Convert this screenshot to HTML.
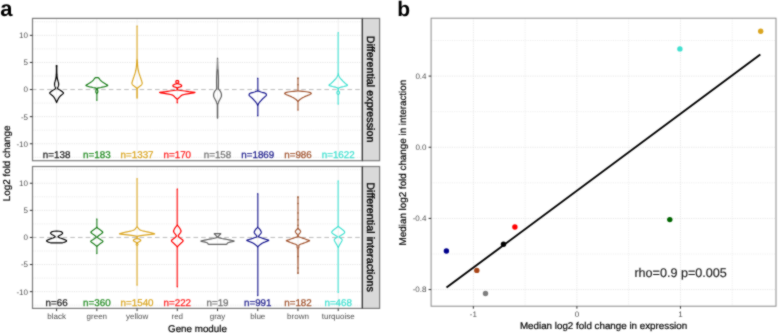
<!DOCTYPE html>
<html><head><meta charset="utf-8"><title>figure</title>
<style>
html,body{margin:0;padding:0;background:#fff;}
body{width:778px;height:333px;overflow:hidden;font-family:"Liberation Sans", sans-serif;}
svg{display:block;text-rendering:geometricPrecision;will-change:transform;}
</style></head><body>
<svg width="778" height="333" viewBox="0 0 778 333">
<defs><filter id="soft" filterUnits="userSpaceOnUse" x="0" y="0" width="778" height="333" color-interpolation-filters="sRGB"><feConvolveMatrix order="3" kernelMatrix="1 2 1 2 12 2 1 2 1" divisor="24" edgeMode="duplicate"/></filter></defs>
<g filter="url(#soft)">
<rect x="0" y="0" width="778" height="333" fill="#ffffff"/>
<rect x="32.5" y="18.4" width="329.9" height="142.29999999999998" fill="#ffffff"/>
<line x1="32.5" x2="362.4" y1="157.30" y2="157.30" stroke="#ebebeb" stroke-width="1" stroke-dasharray="1.2,1.1"/>
<line x1="32.5" x2="362.4" y1="130.20" y2="130.20" stroke="#ebebeb" stroke-width="1" stroke-dasharray="1.2,1.1"/>
<line x1="32.5" x2="362.4" y1="103.10" y2="103.10" stroke="#ebebeb" stroke-width="1" stroke-dasharray="1.2,1.1"/>
<line x1="32.5" x2="362.4" y1="76.00" y2="76.00" stroke="#ebebeb" stroke-width="1" stroke-dasharray="1.2,1.1"/>
<line x1="32.5" x2="362.4" y1="48.90" y2="48.90" stroke="#ebebeb" stroke-width="1" stroke-dasharray="1.2,1.1"/>
<line x1="32.5" x2="362.4" y1="21.80" y2="21.80" stroke="#ebebeb" stroke-width="1" stroke-dasharray="1.2,1.1"/>
<line x1="32.5" x2="362.4" y1="143.75" y2="143.75" stroke="#e4e4e4" stroke-width="1" stroke-dasharray="1.2,1.1"/>
<line x1="32.5" x2="362.4" y1="116.65" y2="116.65" stroke="#e4e4e4" stroke-width="1" stroke-dasharray="1.2,1.1"/>
<line x1="32.5" x2="362.4" y1="62.45" y2="62.45" stroke="#e4e4e4" stroke-width="1" stroke-dasharray="1.2,1.1"/>
<line x1="32.5" x2="362.4" y1="35.35" y2="35.35" stroke="#e4e4e4" stroke-width="1" stroke-dasharray="1.2,1.1"/>
<line x1="56.60" x2="56.60" y1="18.4" y2="160.7" stroke="#efefef" stroke-width="1"/>
<line x1="96.83" x2="96.83" y1="18.4" y2="160.7" stroke="#efefef" stroke-width="1"/>
<line x1="137.06" x2="137.06" y1="18.4" y2="160.7" stroke="#efefef" stroke-width="1"/>
<line x1="177.29" x2="177.29" y1="18.4" y2="160.7" stroke="#efefef" stroke-width="1"/>
<line x1="217.52" x2="217.52" y1="18.4" y2="160.7" stroke="#efefef" stroke-width="1"/>
<line x1="257.75" x2="257.75" y1="18.4" y2="160.7" stroke="#efefef" stroke-width="1"/>
<line x1="297.98" x2="297.98" y1="18.4" y2="160.7" stroke="#efefef" stroke-width="1"/>
<line x1="338.21" x2="338.21" y1="18.4" y2="160.7" stroke="#efefef" stroke-width="1"/>
<line x1="32.5" x2="362.4" y1="89.55" y2="89.55" stroke="#bcbcbc" stroke-width="1" stroke-dasharray="4.6,3.1" stroke-dashoffset="0.7"/>
<rect x="32.5" y="166.5" width="329.9" height="141.89999999999998" fill="#ffffff"/>
<line x1="32.5" x2="362.4" y1="305.20" y2="305.20" stroke="#ebebeb" stroke-width="1" stroke-dasharray="1.2,1.1"/>
<line x1="32.5" x2="362.4" y1="278.10" y2="278.10" stroke="#ebebeb" stroke-width="1" stroke-dasharray="1.2,1.1"/>
<line x1="32.5" x2="362.4" y1="251.00" y2="251.00" stroke="#ebebeb" stroke-width="1" stroke-dasharray="1.2,1.1"/>
<line x1="32.5" x2="362.4" y1="223.90" y2="223.90" stroke="#ebebeb" stroke-width="1" stroke-dasharray="1.2,1.1"/>
<line x1="32.5" x2="362.4" y1="196.80" y2="196.80" stroke="#ebebeb" stroke-width="1" stroke-dasharray="1.2,1.1"/>
<line x1="32.5" x2="362.4" y1="169.70" y2="169.70" stroke="#ebebeb" stroke-width="1" stroke-dasharray="1.2,1.1"/>
<line x1="32.5" x2="362.4" y1="291.65" y2="291.65" stroke="#e4e4e4" stroke-width="1" stroke-dasharray="1.2,1.1"/>
<line x1="32.5" x2="362.4" y1="264.55" y2="264.55" stroke="#e4e4e4" stroke-width="1" stroke-dasharray="1.2,1.1"/>
<line x1="32.5" x2="362.4" y1="210.35" y2="210.35" stroke="#e4e4e4" stroke-width="1" stroke-dasharray="1.2,1.1"/>
<line x1="32.5" x2="362.4" y1="183.25" y2="183.25" stroke="#e4e4e4" stroke-width="1" stroke-dasharray="1.2,1.1"/>
<line x1="56.60" x2="56.60" y1="166.5" y2="308.4" stroke="#efefef" stroke-width="1"/>
<line x1="96.83" x2="96.83" y1="166.5" y2="308.4" stroke="#efefef" stroke-width="1"/>
<line x1="137.06" x2="137.06" y1="166.5" y2="308.4" stroke="#efefef" stroke-width="1"/>
<line x1="177.29" x2="177.29" y1="166.5" y2="308.4" stroke="#efefef" stroke-width="1"/>
<line x1="217.52" x2="217.52" y1="166.5" y2="308.4" stroke="#efefef" stroke-width="1"/>
<line x1="257.75" x2="257.75" y1="166.5" y2="308.4" stroke="#efefef" stroke-width="1"/>
<line x1="297.98" x2="297.98" y1="166.5" y2="308.4" stroke="#efefef" stroke-width="1"/>
<line x1="338.21" x2="338.21" y1="166.5" y2="308.4" stroke="#efefef" stroke-width="1"/>
<line x1="32.5" x2="362.4" y1="237.45" y2="237.45" stroke="#bcbcbc" stroke-width="1" stroke-dasharray="4.6,3.1" stroke-dashoffset="0.7"/>
<path d="M56.60,65.50 L56.95,65.80 L56.93,66.10 L56.87,66.40 L56.80,66.70 L56.75,67.00 L56.75,67.40 L56.75,67.80 L56.75,68.20 L56.75,68.60 L56.75,69.00 L56.75,69.40 L56.75,69.80 L56.75,70.20 L56.75,70.60 L56.76,71.00 L56.77,71.40 L56.77,71.80 L56.78,72.20 L56.79,72.60 L56.80,73.00 L56.82,73.39 L56.84,73.78 L56.86,74.17 L56.89,74.56 L56.92,74.94 L56.95,75.33 L56.98,75.72 L57.02,76.11 L57.05,76.50 L57.09,76.86 L57.14,77.21 L57.18,77.57 L57.23,77.93 L57.28,78.29 L57.34,78.64 L57.40,79.00 L57.50,79.40 L57.62,79.80 L57.75,80.20 L57.88,80.60 L58.00,81.00 L58.12,81.40 L58.25,81.80 L58.36,82.20 L58.47,82.60 L58.55,83.00 L58.61,83.40 L58.65,83.80 L58.65,84.20 L58.65,84.60 L58.62,84.95 L58.56,85.30 L58.49,85.65 L58.40,86.00 L58.29,86.30 L58.16,86.60 L58.02,86.90 L57.90,87.20 L57.70,87.53 L57.52,87.87 L57.50,88.20 L57.73,88.53 L58.12,88.87 L58.60,89.20 L59.02,89.50 L59.50,89.80 L60.01,90.10 L60.50,90.40 L60.99,90.75 L61.50,91.10 L61.98,91.45 L62.40,91.80 L62.79,92.12 L63.14,92.45 L63.41,92.77 L63.50,93.10 L63.38,93.40 L63.08,93.70 L62.70,94.00 L62.30,94.30 L61.89,94.67 L61.42,95.05 L60.94,95.42 L60.50,95.80 L60.18,96.16 L59.87,96.52 L59.57,96.88 L59.28,97.24 L59.00,97.60 L58.80,97.94 L58.60,98.29 L58.41,98.63 L58.22,98.97 L58.04,99.31 L57.87,99.66 L57.70,100.00 L57.51,100.38 L57.33,100.77 L57.15,101.15 L56.99,101.53 L56.86,101.92 L56.75,102.30 L56.60,102.60 L56.60,102.60 L56.45,102.30 L56.34,101.92 L56.21,101.53 L56.05,101.15 L55.87,100.77 L55.69,100.38 L55.50,100.00 L55.33,99.66 L55.16,99.31 L54.98,98.97 L54.79,98.63 L54.60,98.29 L54.40,97.94 L54.20,97.60 L53.92,97.24 L53.63,96.88 L53.33,96.52 L53.02,96.16 L52.70,95.80 L52.26,95.42 L51.78,95.05 L51.31,94.67 L50.90,94.30 L50.50,94.00 L50.12,93.70 L49.82,93.40 L49.70,93.10 L49.79,92.77 L50.06,92.45 L50.41,92.12 L50.80,91.80 L51.22,91.45 L51.70,91.10 L52.21,90.75 L52.70,90.40 L53.19,90.10 L53.70,89.80 L54.18,89.50 L54.60,89.20 L55.08,88.87 L55.47,88.53 L55.70,88.20 L55.68,87.87 L55.50,87.53 L55.30,87.20 L55.18,86.90 L55.04,86.60 L54.91,86.30 L54.80,86.00 L54.71,85.65 L54.64,85.30 L54.58,84.95 L54.55,84.60 L54.55,84.20 L54.55,83.80 L54.59,83.40 L54.65,83.00 L54.73,82.60 L54.84,82.20 L54.95,81.80 L55.08,81.40 L55.20,81.00 L55.32,80.60 L55.45,80.20 L55.58,79.80 L55.70,79.40 L55.80,79.00 L55.86,78.64 L55.92,78.29 L55.97,77.93 L56.02,77.57 L56.06,77.21 L56.11,76.86 L56.15,76.50 L56.18,76.11 L56.22,75.72 L56.25,75.33 L56.28,74.94 L56.31,74.56 L56.34,74.17 L56.36,73.78 L56.38,73.39 L56.40,73.00 L56.41,72.60 L56.42,72.20 L56.43,71.80 L56.43,71.40 L56.44,71.00 L56.45,70.60 L56.45,70.20 L56.45,69.80 L56.45,69.40 L56.45,69.00 L56.45,68.60 L56.45,68.20 L56.45,67.80 L56.45,67.40 L56.45,67.00 L56.40,66.70 L56.33,66.40 L56.27,66.10 L56.25,65.80 L56.60,65.50 Z" fill="none" stroke="#000000" stroke-width="1.2" stroke-linejoin="round"/>
<path d="M56.60,231.20 L59.20,231.25 L60.27,231.47 L61.20,231.70 L61.65,232.02 L62.09,232.35 L62.43,232.68 L62.60,233.00 L62.54,233.32 L62.31,233.65 L61.98,233.98 L61.60,234.30 L60.99,234.70 L60.27,235.10 L59.60,235.50 L58.96,235.83 L58.37,236.17 L58.10,236.50 L58.24,236.87 L58.69,237.23 L59.40,237.60 L60.16,237.95 L61.12,238.30 L62.14,238.65 L63.10,239.00 L64.07,239.40 L65.09,239.80 L65.96,240.20 L66.50,240.60 L66.50,240.90 L66.39,241.20 L66.00,241.50 L65.60,241.80 L64.64,242.15 L63.60,242.50 L62.10,242.80 L56.60,242.85 L56.60,242.85 L51.10,242.80 L49.60,242.50 L48.56,242.15 L47.60,241.80 L47.20,241.50 L46.81,241.20 L46.70,240.90 L46.70,240.60 L47.24,240.20 L48.11,239.80 L49.13,239.40 L50.10,239.00 L51.06,238.65 L52.08,238.30 L53.04,237.95 L53.80,237.60 L54.51,237.23 L54.96,236.87 L55.10,236.50 L54.83,236.17 L54.24,235.83 L53.60,235.50 L52.93,235.10 L52.21,234.70 L51.60,234.30 L51.22,233.98 L50.89,233.65 L50.66,233.32 L50.60,233.00 L50.77,232.68 L51.11,232.35 L51.55,232.02 L52.00,231.70 L52.93,231.47 L54.00,231.25 L56.60,231.20 Z" fill="none" stroke="#000000" stroke-width="1.2" stroke-linejoin="round"/>
<path d="M96.83,77.50 L97.83,77.55 L98.53,77.90 L98.88,78.25 L99.23,78.60 L99.45,78.90 L99.67,79.20 L99.93,79.50 L100.13,79.80 L100.34,80.10 L100.59,80.40 L100.93,80.70 L101.29,81.04 L101.70,81.38 L102.16,81.72 L102.65,82.06 L103.13,82.40 L103.63,82.74 L104.17,83.08 L104.71,83.42 L105.24,83.76 L105.73,84.10 L106.34,84.42 L106.95,84.75 L107.45,85.08 L107.73,85.40 L107.54,85.65 L106.83,85.90 L105.97,86.25 L104.73,86.60 L103.54,86.90 L102.15,87.20 L100.83,87.50 L98.94,87.80 L97.53,88.10 L97.43,88.47 L97.43,88.85 L97.43,89.22 L97.43,89.60 L97.51,89.93 L97.63,90.27 L97.73,90.60 L97.79,90.97 L97.83,91.33 L97.83,91.70 L97.80,92.00 L97.74,92.30 L97.63,92.60 L97.42,92.90 L97.17,93.20 L96.98,93.50 L96.98,93.89 L96.98,94.28 L96.98,94.66 L96.98,95.05 L96.98,95.44 L96.98,95.83 L96.98,96.22 L96.98,96.61 L96.98,96.99 L96.98,97.38 L96.98,97.77 L96.98,98.16 L96.98,98.55 L96.98,98.94 L96.98,99.32 L96.98,99.71 L96.98,100.10 L96.83,100.30 L96.83,100.30 L96.68,100.10 L96.68,99.71 L96.68,99.32 L96.68,98.94 L96.68,98.55 L96.68,98.16 L96.68,97.77 L96.68,97.38 L96.68,96.99 L96.68,96.61 L96.68,96.22 L96.68,95.83 L96.68,95.44 L96.68,95.05 L96.68,94.66 L96.68,94.28 L96.68,93.89 L96.68,93.50 L96.49,93.20 L96.24,92.90 L96.03,92.60 L95.92,92.30 L95.86,92.00 L95.83,91.70 L95.83,91.33 L95.87,90.97 L95.93,90.60 L96.03,90.27 L96.15,89.93 L96.23,89.60 L96.23,89.22 L96.23,88.85 L96.23,88.47 L96.13,88.10 L94.72,87.80 L92.83,87.50 L91.51,87.20 L90.12,86.90 L88.93,86.60 L87.69,86.25 L86.83,85.90 L86.12,85.65 L85.93,85.40 L86.21,85.08 L86.71,84.75 L87.32,84.42 L87.93,84.10 L88.42,83.76 L88.95,83.42 L89.49,83.08 L90.03,82.74 L90.53,82.40 L91.01,82.06 L91.50,81.72 L91.96,81.38 L92.37,81.04 L92.73,80.70 L93.07,80.40 L93.32,80.10 L93.53,79.80 L93.73,79.50 L93.99,79.20 L94.21,78.90 L94.43,78.60 L94.78,78.25 L95.13,77.90 L95.83,77.55 L96.83,77.50 Z" fill="none" stroke="#1a7d1a" stroke-width="1.2" stroke-linejoin="round"/>
<path d="M96.83,219.00 L96.98,219.20 L96.98,219.59 L96.98,219.98 L96.98,220.37 L96.98,220.76 L96.98,221.15 L96.98,221.54 L96.98,221.93 L96.98,222.32 L96.98,222.71 L96.98,223.10 L96.98,223.50 L96.98,223.89 L96.98,224.28 L96.98,224.67 L96.98,225.06 L96.98,225.45 L96.98,225.84 L96.98,226.23 L96.98,226.62 L96.98,227.01 L96.98,227.40 L97.32,227.80 L97.83,228.20 L98.26,228.53 L98.74,228.87 L99.23,229.20 L99.70,229.53 L100.17,229.87 L100.63,230.20 L101.09,230.53 L101.54,230.87 L101.93,231.20 L102.26,231.47 L102.54,231.73 L102.73,232.00 L102.73,232.20 L102.73,232.40 L102.41,232.80 L101.93,233.20 L101.54,233.53 L101.09,233.87 L100.63,234.20 L100.16,234.53 L99.69,234.87 L99.23,235.20 L98.79,235.53 L98.38,235.87 L98.03,236.20 L97.73,236.50 L97.50,236.80 L97.43,237.10 L97.57,237.40 L97.86,237.70 L98.23,238.00 L98.68,238.33 L99.20,238.67 L99.73,239.00 L100.23,239.33 L100.74,239.67 L101.23,240.00 L101.74,240.30 L102.25,240.60 L102.63,240.90 L102.91,241.15 L102.93,241.40 L102.69,241.80 L102.23,242.20 L101.82,242.53 L101.32,242.87 L100.83,243.20 L100.36,243.53 L99.88,243.87 L99.43,244.20 L99.02,244.53 L98.63,244.87 L98.23,245.20 L97.77,245.57 L97.31,245.93 L96.98,246.30 L96.98,246.69 L96.98,247.08 L96.98,247.47 L96.98,247.86 L96.98,248.24 L96.98,248.63 L96.98,249.02 L96.98,249.41 L96.98,249.80 L96.98,250.19 L96.98,250.58 L96.98,250.97 L96.98,251.36 L96.98,251.74 L96.98,252.13 L96.98,252.52 L96.98,252.91 L96.98,253.30 L96.83,253.50 L96.83,253.50 L96.68,253.30 L96.68,252.91 L96.68,252.52 L96.68,252.13 L96.68,251.74 L96.68,251.36 L96.68,250.97 L96.68,250.58 L96.68,250.19 L96.68,249.80 L96.68,249.41 L96.68,249.02 L96.68,248.63 L96.68,248.24 L96.68,247.86 L96.68,247.47 L96.68,247.08 L96.68,246.69 L96.68,246.30 L96.35,245.93 L95.89,245.57 L95.43,245.20 L95.03,244.87 L94.64,244.53 L94.23,244.20 L93.78,243.87 L93.30,243.53 L92.83,243.20 L92.34,242.87 L91.84,242.53 L91.43,242.20 L90.97,241.80 L90.73,241.40 L90.75,241.15 L91.03,240.90 L91.41,240.60 L91.92,240.30 L92.43,240.00 L92.92,239.67 L93.43,239.33 L93.93,239.00 L94.46,238.67 L94.98,238.33 L95.43,238.00 L95.80,237.70 L96.09,237.40 L96.23,237.10 L96.16,236.80 L95.93,236.50 L95.63,236.20 L95.28,235.87 L94.87,235.53 L94.43,235.20 L93.97,234.87 L93.50,234.53 L93.03,234.20 L92.57,233.87 L92.12,233.53 L91.73,233.20 L91.25,232.80 L90.93,232.40 L90.93,232.20 L90.93,232.00 L91.12,231.73 L91.40,231.47 L91.73,231.20 L92.12,230.87 L92.57,230.53 L93.03,230.20 L93.49,229.87 L93.96,229.53 L94.43,229.20 L94.92,228.87 L95.40,228.53 L95.83,228.20 L96.34,227.80 L96.68,227.40 L96.68,227.01 L96.68,226.62 L96.68,226.23 L96.68,225.84 L96.68,225.45 L96.68,225.06 L96.68,224.67 L96.68,224.28 L96.68,223.89 L96.68,223.50 L96.68,223.10 L96.68,222.71 L96.68,222.32 L96.68,221.93 L96.68,221.54 L96.68,221.15 L96.68,220.76 L96.68,220.37 L96.68,219.98 L96.68,219.59 L96.68,219.20 L96.83,219.00 Z" fill="none" stroke="#1a7d1a" stroke-width="1.2" stroke-linejoin="round"/>
<path d="M137.06,26.00 L137.21,26.20 L137.21,26.60 L137.21,26.99 L137.21,27.39 L137.21,27.79 L137.21,28.19 L137.21,28.58 L137.21,28.98 L137.21,29.38 L137.21,29.78 L137.21,30.17 L137.21,30.57 L137.21,30.97 L137.21,31.37 L137.21,31.76 L137.21,32.16 L137.21,32.56 L137.21,32.95 L137.21,33.35 L137.21,33.75 L137.21,34.15 L137.21,34.54 L137.21,34.94 L137.21,35.34 L137.21,35.74 L137.21,36.13 L137.21,36.53 L137.21,36.93 L137.21,37.33 L137.21,37.72 L137.21,38.12 L137.21,38.52 L137.21,38.91 L137.21,39.31 L137.21,39.71 L137.21,40.11 L137.21,40.50 L137.21,40.90 L137.21,41.30 L137.21,41.70 L137.21,42.09 L137.21,42.49 L137.21,42.89 L137.21,43.29 L137.21,43.68 L137.21,44.08 L137.21,44.48 L137.21,44.87 L137.21,45.27 L137.21,45.67 L137.21,46.07 L137.21,46.46 L137.21,46.86 L137.21,47.26 L137.21,47.66 L137.21,48.05 L137.21,48.45 L137.21,48.85 L137.21,49.25 L137.21,49.64 L137.21,50.04 L137.21,50.44 L137.21,50.83 L137.21,51.23 L137.21,51.63 L137.21,52.03 L137.21,52.42 L137.21,52.82 L137.21,53.22 L137.21,53.62 L137.21,54.01 L137.21,54.41 L137.21,54.81 L137.21,55.21 L137.21,55.60 L137.21,56.00 L137.22,56.40 L137.22,56.80 L137.23,57.20 L137.24,57.60 L137.24,58.00 L137.25,58.40 L137.26,58.80 L137.27,59.20 L137.28,59.60 L137.29,60.00 L137.31,60.40 L137.32,60.80 L137.33,61.20 L137.35,61.60 L137.36,62.00 L137.38,62.40 L137.41,62.80 L137.43,63.20 L137.46,63.60 L137.49,64.00 L137.52,64.40 L137.55,64.80 L137.58,65.20 L137.62,65.60 L137.66,66.00 L137.71,66.39 L137.75,66.78 L137.80,67.17 L137.86,67.56 L137.91,67.94 L137.97,68.33 L138.03,68.72 L138.09,69.11 L138.16,69.50 L138.24,69.88 L138.31,70.25 L138.39,70.62 L138.47,71.00 L138.56,71.38 L138.65,71.75 L138.75,72.12 L138.86,72.50 L138.96,72.89 L139.08,73.28 L139.19,73.67 L139.32,74.06 L139.44,74.44 L139.57,74.83 L139.70,75.22 L139.83,75.61 L139.96,76.00 L140.09,76.39 L140.23,76.78 L140.37,77.17 L140.51,77.56 L140.65,77.94 L140.79,78.33 L140.92,78.72 L141.04,79.11 L141.16,79.50 L141.30,79.86 L141.44,80.21 L141.56,80.57 L141.68,80.93 L141.79,81.29 L141.88,81.64 L141.96,82.00 L142.07,82.33 L142.14,82.65 L142.16,82.97 L142.16,83.30 L142.10,83.62 L142.00,83.95 L141.86,84.27 L141.66,84.60 L141.40,84.90 L141.07,85.20 L140.72,85.50 L140.36,85.80 L140.00,86.10 L139.63,86.40 L139.25,86.70 L138.86,87.00 L138.43,87.35 L137.97,87.70 L137.55,88.05 L137.26,88.40 L137.23,88.80 L137.21,89.20 L137.21,89.60 L137.21,90.00 L137.21,90.40 L137.21,90.80 L137.21,91.20 L137.21,91.60 L137.21,92.00 L137.21,92.40 L137.21,92.80 L137.21,93.20 L137.21,93.60 L137.21,94.00 L137.21,94.40 L137.21,94.80 L137.21,95.20 L137.21,95.60 L137.21,96.00 L137.21,96.40 L137.21,96.80 L137.21,97.20 L137.21,97.60 L137.21,98.00 L137.06,98.20 L137.06,98.20 L136.91,98.00 L136.91,97.60 L136.91,97.20 L136.91,96.80 L136.91,96.40 L136.91,96.00 L136.91,95.60 L136.91,95.20 L136.91,94.80 L136.91,94.40 L136.91,94.00 L136.91,93.60 L136.91,93.20 L136.91,92.80 L136.91,92.40 L136.91,92.00 L136.91,91.60 L136.91,91.20 L136.91,90.80 L136.91,90.40 L136.91,90.00 L136.91,89.60 L136.91,89.20 L136.89,88.80 L136.86,88.40 L136.57,88.05 L136.15,87.70 L135.69,87.35 L135.26,87.00 L134.87,86.70 L134.49,86.40 L134.12,86.10 L133.76,85.80 L133.40,85.50 L133.05,85.20 L132.72,84.90 L132.46,84.60 L132.26,84.27 L132.12,83.95 L132.02,83.62 L131.96,83.30 L131.96,82.97 L131.98,82.65 L132.05,82.33 L132.16,82.00 L132.24,81.64 L132.33,81.29 L132.44,80.93 L132.56,80.57 L132.68,80.21 L132.82,79.86 L132.96,79.50 L133.08,79.11 L133.20,78.72 L133.33,78.33 L133.47,77.94 L133.61,77.56 L133.75,77.17 L133.89,76.78 L134.03,76.39 L134.16,76.00 L134.29,75.61 L134.42,75.22 L134.55,74.83 L134.68,74.44 L134.80,74.06 L134.93,73.67 L135.04,73.28 L135.16,72.89 L135.26,72.50 L135.37,72.12 L135.47,71.75 L135.56,71.38 L135.65,71.00 L135.73,70.62 L135.81,70.25 L135.88,69.88 L135.96,69.50 L136.03,69.11 L136.09,68.72 L136.15,68.33 L136.21,67.94 L136.26,67.56 L136.32,67.17 L136.37,66.78 L136.41,66.39 L136.46,66.00 L136.50,65.60 L136.54,65.20 L136.57,64.80 L136.60,64.40 L136.63,64.00 L136.66,63.60 L136.69,63.20 L136.71,62.80 L136.74,62.40 L136.76,62.00 L136.77,61.60 L136.79,61.20 L136.80,60.80 L136.81,60.40 L136.83,60.00 L136.84,59.60 L136.85,59.20 L136.86,58.80 L136.87,58.40 L136.88,58.00 L136.88,57.60 L136.89,57.20 L136.90,56.80 L136.90,56.40 L136.91,56.00 L136.91,55.60 L136.91,55.21 L136.91,54.81 L136.91,54.41 L136.91,54.01 L136.91,53.62 L136.91,53.22 L136.91,52.82 L136.91,52.42 L136.91,52.03 L136.91,51.63 L136.91,51.23 L136.91,50.83 L136.91,50.44 L136.91,50.04 L136.91,49.64 L136.91,49.25 L136.91,48.85 L136.91,48.45 L136.91,48.05 L136.91,47.66 L136.91,47.26 L136.91,46.86 L136.91,46.46 L136.91,46.07 L136.91,45.67 L136.91,45.27 L136.91,44.87 L136.91,44.48 L136.91,44.08 L136.91,43.68 L136.91,43.29 L136.91,42.89 L136.91,42.49 L136.91,42.09 L136.91,41.70 L136.91,41.30 L136.91,40.90 L136.91,40.50 L136.91,40.11 L136.91,39.71 L136.91,39.31 L136.91,38.91 L136.91,38.52 L136.91,38.12 L136.91,37.72 L136.91,37.33 L136.91,36.93 L136.91,36.53 L136.91,36.13 L136.91,35.74 L136.91,35.34 L136.91,34.94 L136.91,34.54 L136.91,34.15 L136.91,33.75 L136.91,33.35 L136.91,32.95 L136.91,32.56 L136.91,32.16 L136.91,31.76 L136.91,31.37 L136.91,30.97 L136.91,30.57 L136.91,30.17 L136.91,29.78 L136.91,29.38 L136.91,28.98 L136.91,28.58 L136.91,28.19 L136.91,27.79 L136.91,27.39 L136.91,26.99 L136.91,26.60 L136.91,26.20 L137.06,26.00 Z" fill="none" stroke="#daa520" stroke-width="1.2" stroke-linejoin="round"/>
<path d="M137.06,178.60 L137.21,178.80 L137.21,179.20 L137.21,179.60 L137.21,180.00 L137.21,180.40 L137.21,180.80 L137.21,181.20 L137.21,181.59 L137.21,181.99 L137.21,182.39 L137.21,182.79 L137.21,183.19 L137.21,183.59 L137.21,183.99 L137.21,184.39 L137.21,184.79 L137.21,185.19 L137.21,185.59 L137.21,185.99 L137.21,186.38 L137.21,186.78 L137.21,187.18 L137.21,187.58 L137.21,187.98 L137.21,188.38 L137.21,188.78 L137.21,189.18 L137.21,189.58 L137.21,189.98 L137.21,190.38 L137.21,190.78 L137.21,191.17 L137.21,191.57 L137.21,191.97 L137.21,192.37 L137.21,192.77 L137.21,193.17 L137.21,193.57 L137.21,193.97 L137.21,194.37 L137.21,194.77 L137.21,195.17 L137.21,195.56 L137.21,195.96 L137.21,196.36 L137.21,196.76 L137.21,197.16 L137.21,197.56 L137.21,197.96 L137.21,198.36 L137.21,198.76 L137.21,199.16 L137.21,199.56 L137.21,199.96 L137.21,200.35 L137.21,200.75 L137.21,201.15 L137.21,201.55 L137.21,201.95 L137.21,202.35 L137.21,202.75 L137.21,203.15 L137.21,203.55 L137.21,203.95 L137.21,204.35 L137.21,204.75 L137.21,205.15 L137.21,205.54 L137.21,205.94 L137.21,206.34 L137.21,206.74 L137.21,207.14 L137.21,207.54 L137.21,207.94 L137.21,208.34 L137.21,208.74 L137.21,209.14 L137.21,209.54 L137.21,209.94 L137.21,210.33 L137.21,210.73 L137.21,211.13 L137.21,211.53 L137.21,211.93 L137.21,212.33 L137.21,212.73 L137.21,213.13 L137.21,213.53 L137.21,213.93 L137.21,214.33 L137.21,214.72 L137.21,215.12 L137.21,215.52 L137.21,215.92 L137.21,216.32 L137.21,216.72 L137.21,217.12 L137.21,217.52 L137.21,217.92 L137.21,218.32 L137.21,218.72 L137.21,219.12 L137.21,219.51 L137.21,219.91 L137.21,220.31 L137.21,220.71 L137.21,221.11 L137.21,221.51 L137.21,221.91 L137.21,222.31 L137.21,222.71 L137.21,223.11 L137.21,223.51 L137.21,223.91 L137.21,224.30 L137.21,224.70 L137.21,225.10 L137.21,225.50 L137.21,225.90 L137.21,226.30 L137.21,226.70 L137.39,227.02 L137.64,227.35 L137.94,227.68 L138.26,228.00 L138.51,228.36 L138.77,228.72 L139.04,229.08 L139.37,229.44 L139.76,229.80 L140.54,230.13 L141.46,230.47 L142.56,230.80 L143.90,231.13 L145.42,231.47 L146.96,231.80 L148.53,232.17 L150.13,232.53 L151.56,232.90 L152.95,233.23 L154.18,233.57 L154.66,233.90 L153.34,234.15 L151.06,234.40 L148.78,234.65 L146.46,234.90 L144.42,235.15 L142.56,235.40 L140.91,235.65 L139.46,235.90 L138.14,236.15 L137.21,236.40 L137.21,236.75 L137.21,237.10 L137.21,237.45 L137.21,237.80 L137.21,238.15 L137.21,238.50 L137.80,238.70 L138.56,238.90 L139.24,239.15 L139.86,239.40 L140.34,239.70 L140.66,240.00 L140.66,240.35 L140.66,240.70 L140.34,241.00 L139.86,241.30 L139.30,241.65 L138.66,242.00 L138.12,242.30 L137.55,242.60 L137.21,242.90 L137.26,243.20 L137.53,243.50 L137.76,243.80 L137.94,244.20 L137.96,244.60 L137.75,244.87 L137.44,245.13 L137.21,245.40 L137.21,245.80 L137.21,246.20 L137.21,246.60 L137.21,247.00 L137.21,247.40 L137.21,247.80 L137.21,248.20 L137.21,248.60 L137.21,249.00 L137.21,249.40 L137.21,249.80 L137.21,250.20 L137.21,250.60 L137.21,251.00 L137.21,251.40 L137.21,251.80 L137.21,252.20 L137.21,252.60 L137.21,253.00 L137.21,253.40 L137.21,253.80 L137.21,254.20 L137.21,254.60 L137.21,255.00 L137.21,255.40 L137.21,255.80 L137.21,256.20 L137.21,256.60 L137.21,257.00 L137.21,257.40 L137.21,257.80 L137.21,258.20 L137.21,258.60 L137.21,259.00 L137.21,259.40 L137.21,259.80 L137.21,260.20 L137.21,260.60 L137.21,261.00 L137.21,261.40 L137.21,261.80 L137.21,262.20 L137.21,262.60 L137.21,263.00 L137.21,263.40 L137.21,263.80 L137.21,264.20 L137.21,264.60 L137.21,265.00 L137.21,265.40 L137.21,265.80 L137.21,266.20 L137.21,266.60 L137.21,267.00 L137.21,267.40 L137.21,267.80 L137.21,268.20 L137.21,268.60 L137.21,269.00 L137.21,269.40 L137.21,269.80 L137.21,270.20 L137.21,270.60 L137.21,271.00 L137.21,271.40 L137.21,271.80 L137.21,272.20 L137.21,272.60 L137.21,273.00 L137.21,273.40 L137.21,273.80 L137.21,274.20 L137.21,274.60 L137.21,275.00 L137.21,275.40 L137.21,275.80 L137.21,276.20 L137.21,276.60 L137.21,277.00 L137.21,277.40 L137.21,277.80 L137.21,278.20 L137.21,278.60 L137.21,279.00 L137.21,279.40 L137.21,279.80 L137.21,280.20 L137.21,280.60 L137.21,281.00 L137.21,281.40 L137.21,281.80 L137.21,282.20 L137.21,282.60 L137.21,283.00 L137.21,283.40 L137.21,283.80 L137.21,284.20 L137.21,284.60 L137.21,285.00 L137.06,285.20 L137.06,285.20 L136.91,285.00 L136.91,284.60 L136.91,284.20 L136.91,283.80 L136.91,283.40 L136.91,283.00 L136.91,282.60 L136.91,282.20 L136.91,281.80 L136.91,281.40 L136.91,281.00 L136.91,280.60 L136.91,280.20 L136.91,279.80 L136.91,279.40 L136.91,279.00 L136.91,278.60 L136.91,278.20 L136.91,277.80 L136.91,277.40 L136.91,277.00 L136.91,276.60 L136.91,276.20 L136.91,275.80 L136.91,275.40 L136.91,275.00 L136.91,274.60 L136.91,274.20 L136.91,273.80 L136.91,273.40 L136.91,273.00 L136.91,272.60 L136.91,272.20 L136.91,271.80 L136.91,271.40 L136.91,271.00 L136.91,270.60 L136.91,270.20 L136.91,269.80 L136.91,269.40 L136.91,269.00 L136.91,268.60 L136.91,268.20 L136.91,267.80 L136.91,267.40 L136.91,267.00 L136.91,266.60 L136.91,266.20 L136.91,265.80 L136.91,265.40 L136.91,265.00 L136.91,264.60 L136.91,264.20 L136.91,263.80 L136.91,263.40 L136.91,263.00 L136.91,262.60 L136.91,262.20 L136.91,261.80 L136.91,261.40 L136.91,261.00 L136.91,260.60 L136.91,260.20 L136.91,259.80 L136.91,259.40 L136.91,259.00 L136.91,258.60 L136.91,258.20 L136.91,257.80 L136.91,257.40 L136.91,257.00 L136.91,256.60 L136.91,256.20 L136.91,255.80 L136.91,255.40 L136.91,255.00 L136.91,254.60 L136.91,254.20 L136.91,253.80 L136.91,253.40 L136.91,253.00 L136.91,252.60 L136.91,252.20 L136.91,251.80 L136.91,251.40 L136.91,251.00 L136.91,250.60 L136.91,250.20 L136.91,249.80 L136.91,249.40 L136.91,249.00 L136.91,248.60 L136.91,248.20 L136.91,247.80 L136.91,247.40 L136.91,247.00 L136.91,246.60 L136.91,246.20 L136.91,245.80 L136.91,245.40 L136.68,245.13 L136.37,244.87 L136.16,244.60 L136.18,244.20 L136.36,243.80 L136.59,243.50 L136.86,243.20 L136.91,242.90 L136.57,242.60 L136.00,242.30 L135.46,242.00 L134.82,241.65 L134.26,241.30 L133.78,241.00 L133.46,240.70 L133.46,240.35 L133.46,240.00 L133.78,239.70 L134.26,239.40 L134.88,239.15 L135.56,238.90 L136.32,238.70 L136.91,238.50 L136.91,238.15 L136.91,237.80 L136.91,237.45 L136.91,237.10 L136.91,236.75 L136.91,236.40 L135.98,236.15 L134.66,235.90 L133.21,235.65 L131.56,235.40 L129.70,235.15 L127.66,234.90 L125.34,234.65 L123.06,234.40 L120.78,234.15 L119.46,233.90 L119.94,233.57 L121.17,233.23 L122.56,232.90 L123.99,232.53 L125.59,232.17 L127.16,231.80 L128.70,231.47 L130.22,231.13 L131.56,230.80 L132.66,230.47 L133.58,230.13 L134.36,229.80 L134.75,229.44 L135.08,229.08 L135.35,228.72 L135.61,228.36 L135.86,228.00 L136.18,227.68 L136.48,227.35 L136.73,227.02 L136.91,226.70 L136.91,226.30 L136.91,225.90 L136.91,225.50 L136.91,225.10 L136.91,224.70 L136.91,224.30 L136.91,223.91 L136.91,223.51 L136.91,223.11 L136.91,222.71 L136.91,222.31 L136.91,221.91 L136.91,221.51 L136.91,221.11 L136.91,220.71 L136.91,220.31 L136.91,219.91 L136.91,219.51 L136.91,219.12 L136.91,218.72 L136.91,218.32 L136.91,217.92 L136.91,217.52 L136.91,217.12 L136.91,216.72 L136.91,216.32 L136.91,215.92 L136.91,215.52 L136.91,215.12 L136.91,214.72 L136.91,214.33 L136.91,213.93 L136.91,213.53 L136.91,213.13 L136.91,212.73 L136.91,212.33 L136.91,211.93 L136.91,211.53 L136.91,211.13 L136.91,210.73 L136.91,210.33 L136.91,209.94 L136.91,209.54 L136.91,209.14 L136.91,208.74 L136.91,208.34 L136.91,207.94 L136.91,207.54 L136.91,207.14 L136.91,206.74 L136.91,206.34 L136.91,205.94 L136.91,205.54 L136.91,205.15 L136.91,204.75 L136.91,204.35 L136.91,203.95 L136.91,203.55 L136.91,203.15 L136.91,202.75 L136.91,202.35 L136.91,201.95 L136.91,201.55 L136.91,201.15 L136.91,200.75 L136.91,200.35 L136.91,199.96 L136.91,199.56 L136.91,199.16 L136.91,198.76 L136.91,198.36 L136.91,197.96 L136.91,197.56 L136.91,197.16 L136.91,196.76 L136.91,196.36 L136.91,195.96 L136.91,195.56 L136.91,195.17 L136.91,194.77 L136.91,194.37 L136.91,193.97 L136.91,193.57 L136.91,193.17 L136.91,192.77 L136.91,192.37 L136.91,191.97 L136.91,191.57 L136.91,191.17 L136.91,190.78 L136.91,190.38 L136.91,189.98 L136.91,189.58 L136.91,189.18 L136.91,188.78 L136.91,188.38 L136.91,187.98 L136.91,187.58 L136.91,187.18 L136.91,186.78 L136.91,186.38 L136.91,185.99 L136.91,185.59 L136.91,185.19 L136.91,184.79 L136.91,184.39 L136.91,183.99 L136.91,183.59 L136.91,183.19 L136.91,182.79 L136.91,182.39 L136.91,181.99 L136.91,181.59 L136.91,181.20 L136.91,180.80 L136.91,180.40 L136.91,180.00 L136.91,179.60 L136.91,179.20 L136.91,178.80 L137.06,178.60 Z" fill="none" stroke="#daa520" stroke-width="1.2" stroke-linejoin="round"/>
<path d="M177.29,80.60 L178.29,80.65 L178.49,80.93 L178.62,81.22 L178.69,81.50 L178.69,81.83 L178.68,82.15 L178.61,82.47 L178.49,82.80 L177.81,83.15 L177.44,83.50 L178.46,83.90 L179.79,84.30 L180.66,84.65 L181.29,85.00 L181.62,85.40 L181.69,85.80 L181.53,86.20 L181.09,86.60 L180.24,86.90 L179.29,87.20 L177.89,87.60 L177.74,87.94 L177.58,88.29 L177.44,88.63 L177.44,88.97 L177.44,89.31 L177.44,89.66 L177.44,90.00 L178.84,90.25 L180.79,90.50 L182.74,90.75 L184.79,91.00 L186.93,91.35 L188.99,91.70 L192.29,92.10 L194.99,92.45 L193.79,92.80 L191.70,93.20 L188.99,93.60 L187.44,93.90 L185.72,94.20 L184.08,94.50 L182.79,94.80 L181.97,95.10 L181.47,95.40 L181.13,95.70 L180.79,96.00 L180.36,96.37 L180.03,96.73 L179.69,97.10 L179.39,97.40 L179.09,97.70 L178.78,98.00 L178.49,98.30 L177.89,98.70 L177.44,99.10 L177.44,99.49 L177.44,99.88 L177.44,100.27 L177.44,100.66 L177.44,101.04 L177.44,101.43 L177.44,101.82 L177.44,102.21 L177.44,102.60 L177.29,102.80 L177.29,102.80 L177.14,102.60 L177.14,102.21 L177.14,101.82 L177.14,101.43 L177.14,101.04 L177.14,100.66 L177.14,100.27 L177.14,99.88 L177.14,99.49 L177.14,99.10 L176.69,98.70 L176.09,98.30 L175.80,98.00 L175.49,97.70 L175.19,97.40 L174.89,97.10 L174.55,96.73 L174.22,96.37 L173.79,96.00 L173.45,95.70 L173.11,95.40 L172.61,95.10 L171.79,94.80 L170.50,94.50 L168.86,94.20 L167.14,93.90 L165.59,93.60 L162.88,93.20 L160.79,92.80 L159.59,92.45 L162.29,92.10 L165.59,91.70 L167.65,91.35 L169.79,91.00 L171.84,90.75 L173.79,90.50 L175.74,90.25 L177.14,90.00 L177.14,89.66 L177.14,89.31 L177.14,88.97 L177.14,88.63 L177.00,88.29 L176.84,87.94 L176.69,87.60 L175.29,87.20 L174.34,86.90 L173.49,86.60 L173.05,86.20 L172.89,85.80 L172.96,85.40 L173.29,85.00 L173.92,84.65 L174.79,84.30 L176.12,83.90 L177.14,83.50 L176.77,83.15 L176.09,82.80 L175.97,82.47 L175.90,82.15 L175.89,81.83 L175.89,81.50 L175.96,81.22 L176.09,80.93 L176.29,80.65 L177.29,80.60 Z" fill="none" stroke="#ff0000" stroke-width="1.2" stroke-linejoin="round"/>
<path d="M177.29,189.00 L177.44,189.20 L177.44,189.60 L177.44,190.00 L177.44,190.40 L177.44,190.80 L177.44,191.19 L177.44,191.59 L177.44,191.99 L177.44,192.39 L177.44,192.79 L177.44,193.19 L177.44,193.59 L177.44,193.99 L177.44,194.39 L177.44,194.78 L177.44,195.18 L177.44,195.58 L177.44,195.98 L177.44,196.38 L177.44,196.78 L177.44,197.18 L177.44,197.58 L177.44,197.98 L177.44,198.37 L177.44,198.77 L177.44,199.17 L177.44,199.57 L177.44,199.97 L177.44,200.37 L177.44,200.77 L177.44,201.17 L177.44,201.57 L177.44,201.96 L177.44,202.36 L177.44,202.76 L177.44,203.16 L177.44,203.56 L177.44,203.96 L177.44,204.36 L177.44,204.76 L177.44,205.16 L177.44,205.55 L177.44,205.95 L177.44,206.35 L177.44,206.75 L177.44,207.15 L177.44,207.55 L177.44,207.95 L177.44,208.35 L177.44,208.75 L177.44,209.14 L177.44,209.54 L177.44,209.94 L177.44,210.34 L177.44,210.74 L177.44,211.14 L177.44,211.54 L177.44,211.94 L177.44,212.34 L177.44,212.73 L177.44,213.13 L177.44,213.53 L177.44,213.93 L177.44,214.33 L177.44,214.73 L177.44,215.13 L177.44,215.53 L177.44,215.93 L177.44,216.32 L177.44,216.72 L177.44,217.12 L177.44,217.52 L177.44,217.92 L177.44,218.32 L177.44,218.72 L177.44,219.12 L177.44,219.52 L177.44,219.91 L177.44,220.31 L177.44,220.71 L177.44,221.11 L177.44,221.51 L177.44,221.91 L177.44,222.31 L177.44,222.71 L177.44,223.11 L177.44,223.50 L177.44,223.90 L177.44,224.30 L177.44,224.70 L177.44,225.10 L177.63,225.45 L177.90,225.80 L178.20,226.15 L178.49,226.50 L178.77,226.88 L179.05,227.25 L179.33,227.62 L179.59,228.00 L179.84,228.40 L180.08,228.80 L180.30,229.20 L180.49,229.60 L180.65,229.90 L180.80,230.20 L180.91,230.50 L180.99,230.80 L180.99,231.20 L180.99,231.60 L180.88,231.90 L180.72,232.20 L180.52,232.50 L180.29,232.80 L180.02,233.20 L179.70,233.60 L179.38,234.00 L179.09,234.40 L178.80,234.80 L178.51,235.20 L178.28,235.60 L178.19,236.00 L178.32,236.40 L178.66,236.80 L179.09,237.20 L179.48,237.55 L179.95,237.90 L180.43,238.25 L180.89,238.60 L181.33,238.90 L181.76,239.20 L182.16,239.50 L182.49,239.80 L182.80,240.10 L183.00,240.40 L183.09,240.70 L183.06,240.97 L182.93,241.23 L182.69,241.50 L182.43,241.82 L182.11,242.15 L181.75,242.48 L181.39,242.80 L181.02,243.15 L180.64,243.50 L180.26,243.85 L179.89,244.20 L179.55,244.52 L179.22,244.85 L178.90,245.18 L178.59,245.50 L178.26,245.82 L177.93,246.15 L177.64,246.48 L177.44,246.80 L177.44,247.20 L177.44,247.60 L177.44,247.99 L177.44,248.39 L177.44,248.79 L177.44,249.19 L177.44,249.59 L177.44,249.98 L177.44,250.38 L177.44,250.78 L177.44,251.18 L177.44,251.58 L177.44,251.97 L177.44,252.37 L177.44,252.77 L177.44,253.17 L177.44,253.57 L177.44,253.96 L177.44,254.36 L177.44,254.76 L177.44,255.16 L177.44,255.56 L177.44,255.95 L177.44,256.35 L177.44,256.75 L177.44,257.15 L177.44,257.55 L177.44,257.94 L177.44,258.34 L177.44,258.74 L177.44,259.14 L177.44,259.54 L177.44,259.93 L177.44,260.33 L177.44,260.73 L177.44,261.13 L177.44,261.53 L177.44,261.92 L177.44,262.32 L177.44,262.72 L177.44,263.12 L177.44,263.52 L177.44,263.91 L177.44,264.31 L177.44,264.71 L177.44,265.11 L177.44,265.51 L177.44,265.90 L177.44,266.30 L177.44,266.70 L177.44,267.10 L177.44,267.50 L177.44,267.89 L177.44,268.29 L177.44,268.69 L177.44,269.09 L177.44,269.49 L177.44,269.88 L177.44,270.28 L177.44,270.68 L177.44,271.08 L177.44,271.48 L177.44,271.87 L177.44,272.27 L177.44,272.67 L177.44,273.07 L177.44,273.47 L177.44,273.86 L177.44,274.26 L177.44,274.66 L177.44,275.06 L177.44,275.46 L177.44,275.85 L177.44,276.25 L177.44,276.65 L177.44,277.05 L177.44,277.45 L177.44,277.84 L177.44,278.24 L177.44,278.64 L177.44,279.04 L177.44,279.44 L177.44,279.83 L177.44,280.23 L177.44,280.63 L177.44,281.03 L177.44,281.43 L177.44,281.82 L177.44,282.22 L177.44,282.62 L177.44,283.02 L177.44,283.42 L177.44,283.81 L177.44,284.21 L177.44,284.61 L177.44,285.01 L177.44,285.41 L177.44,285.80 L177.44,286.20 L177.44,286.60 L177.29,286.80 L177.29,286.80 L177.14,286.60 L177.14,286.20 L177.14,285.80 L177.14,285.41 L177.14,285.01 L177.14,284.61 L177.14,284.21 L177.14,283.81 L177.14,283.42 L177.14,283.02 L177.14,282.62 L177.14,282.22 L177.14,281.82 L177.14,281.43 L177.14,281.03 L177.14,280.63 L177.14,280.23 L177.14,279.83 L177.14,279.44 L177.14,279.04 L177.14,278.64 L177.14,278.24 L177.14,277.84 L177.14,277.45 L177.14,277.05 L177.14,276.65 L177.14,276.25 L177.14,275.85 L177.14,275.46 L177.14,275.06 L177.14,274.66 L177.14,274.26 L177.14,273.86 L177.14,273.47 L177.14,273.07 L177.14,272.67 L177.14,272.27 L177.14,271.87 L177.14,271.48 L177.14,271.08 L177.14,270.68 L177.14,270.28 L177.14,269.88 L177.14,269.49 L177.14,269.09 L177.14,268.69 L177.14,268.29 L177.14,267.89 L177.14,267.50 L177.14,267.10 L177.14,266.70 L177.14,266.30 L177.14,265.90 L177.14,265.51 L177.14,265.11 L177.14,264.71 L177.14,264.31 L177.14,263.91 L177.14,263.52 L177.14,263.12 L177.14,262.72 L177.14,262.32 L177.14,261.92 L177.14,261.53 L177.14,261.13 L177.14,260.73 L177.14,260.33 L177.14,259.93 L177.14,259.54 L177.14,259.14 L177.14,258.74 L177.14,258.34 L177.14,257.94 L177.14,257.55 L177.14,257.15 L177.14,256.75 L177.14,256.35 L177.14,255.95 L177.14,255.56 L177.14,255.16 L177.14,254.76 L177.14,254.36 L177.14,253.96 L177.14,253.57 L177.14,253.17 L177.14,252.77 L177.14,252.37 L177.14,251.97 L177.14,251.58 L177.14,251.18 L177.14,250.78 L177.14,250.38 L177.14,249.98 L177.14,249.59 L177.14,249.19 L177.14,248.79 L177.14,248.39 L177.14,247.99 L177.14,247.60 L177.14,247.20 L177.14,246.80 L176.94,246.48 L176.65,246.15 L176.31,245.82 L175.99,245.50 L175.68,245.18 L175.36,244.85 L175.03,244.52 L174.69,244.20 L174.32,243.85 L173.94,243.50 L173.56,243.15 L173.19,242.80 L172.83,242.48 L172.47,242.15 L172.15,241.82 L171.89,241.50 L171.65,241.23 L171.52,240.97 L171.49,240.70 L171.58,240.40 L171.78,240.10 L172.09,239.80 L172.41,239.50 L172.81,239.20 L173.25,238.90 L173.69,238.60 L174.15,238.25 L174.63,237.90 L175.10,237.55 L175.49,237.20 L175.92,236.80 L176.26,236.40 L176.39,236.00 L176.30,235.60 L176.07,235.20 L175.78,234.80 L175.49,234.40 L175.20,234.00 L174.88,233.60 L174.56,233.20 L174.29,232.80 L174.06,232.50 L173.86,232.20 L173.70,231.90 L173.59,231.60 L173.59,231.20 L173.59,230.80 L173.67,230.50 L173.78,230.20 L173.93,229.90 L174.09,229.60 L174.28,229.20 L174.50,228.80 L174.74,228.40 L174.99,228.00 L175.25,227.62 L175.53,227.25 L175.81,226.88 L176.09,226.50 L176.38,226.15 L176.68,225.80 L176.95,225.45 L177.14,225.10 L177.14,224.70 L177.14,224.30 L177.14,223.90 L177.14,223.50 L177.14,223.11 L177.14,222.71 L177.14,222.31 L177.14,221.91 L177.14,221.51 L177.14,221.11 L177.14,220.71 L177.14,220.31 L177.14,219.91 L177.14,219.52 L177.14,219.12 L177.14,218.72 L177.14,218.32 L177.14,217.92 L177.14,217.52 L177.14,217.12 L177.14,216.72 L177.14,216.32 L177.14,215.93 L177.14,215.53 L177.14,215.13 L177.14,214.73 L177.14,214.33 L177.14,213.93 L177.14,213.53 L177.14,213.13 L177.14,212.73 L177.14,212.34 L177.14,211.94 L177.14,211.54 L177.14,211.14 L177.14,210.74 L177.14,210.34 L177.14,209.94 L177.14,209.54 L177.14,209.14 L177.14,208.75 L177.14,208.35 L177.14,207.95 L177.14,207.55 L177.14,207.15 L177.14,206.75 L177.14,206.35 L177.14,205.95 L177.14,205.55 L177.14,205.16 L177.14,204.76 L177.14,204.36 L177.14,203.96 L177.14,203.56 L177.14,203.16 L177.14,202.76 L177.14,202.36 L177.14,201.96 L177.14,201.57 L177.14,201.17 L177.14,200.77 L177.14,200.37 L177.14,199.97 L177.14,199.57 L177.14,199.17 L177.14,198.77 L177.14,198.37 L177.14,197.98 L177.14,197.58 L177.14,197.18 L177.14,196.78 L177.14,196.38 L177.14,195.98 L177.14,195.58 L177.14,195.18 L177.14,194.78 L177.14,194.39 L177.14,193.99 L177.14,193.59 L177.14,193.19 L177.14,192.79 L177.14,192.39 L177.14,191.99 L177.14,191.59 L177.14,191.19 L177.14,190.80 L177.14,190.40 L177.14,190.00 L177.14,189.60 L177.14,189.20 L177.29,189.00 Z" fill="none" stroke="#ff0000" stroke-width="1.2" stroke-linejoin="round"/>
<path d="M217.52,58.20 L217.62,58.40 L217.63,58.76 L217.63,59.12 L217.63,59.48 L217.63,59.84 L217.63,60.20 L217.63,60.56 L217.64,60.92 L217.64,61.28 L217.66,61.64 L217.67,62.00 L217.68,62.40 L217.70,62.80 L217.71,63.20 L217.73,63.60 L217.75,64.00 L217.77,64.40 L217.79,64.80 L217.82,65.20 L217.84,65.60 L217.86,66.00 L217.88,66.40 L217.91,66.80 L217.93,67.20 L217.95,67.60 L217.97,68.00 L217.99,68.40 L218.01,68.80 L218.03,69.20 L218.05,69.60 L218.07,70.00 L218.09,70.40 L218.12,70.80 L218.14,71.20 L218.16,71.60 L218.18,72.00 L218.20,72.40 L218.22,72.80 L218.24,73.20 L218.25,73.60 L218.27,74.00 L218.29,74.40 L218.30,74.80 L218.32,75.20 L218.34,75.60 L218.35,76.00 L218.37,76.40 L218.38,76.80 L218.40,77.20 L218.41,77.60 L218.43,78.00 L218.44,78.40 L218.45,78.80 L218.46,79.20 L218.46,79.60 L218.47,80.00 L218.47,80.38 L218.47,80.76 L218.47,81.15 L218.47,81.53 L218.47,81.91 L218.47,82.29 L218.47,82.68 L218.46,83.06 L218.46,83.44 L218.45,83.82 L218.45,84.21 L218.44,84.59 L218.44,84.97 L218.43,85.35 L218.43,85.74 L218.42,86.12 L218.42,86.50 L218.40,86.85 L218.38,87.20 L218.37,87.55 L218.37,87.90 L218.37,88.25 L218.37,88.60 L218.52,88.93 L218.74,89.27 L219.02,89.60 L219.27,89.95 L219.56,90.30 L219.86,90.65 L220.12,91.00 L220.35,91.38 L220.56,91.75 L220.75,92.12 L220.92,92.50 L221.07,92.88 L221.19,93.25 L221.29,93.62 L221.37,94.00 L221.43,94.33 L221.46,94.65 L221.47,94.97 L221.47,95.30 L221.45,95.62 L221.42,95.95 L221.36,96.27 L221.27,96.60 L221.14,96.95 L220.98,97.30 L220.80,97.65 L220.62,98.00 L220.43,98.38 L220.24,98.75 L220.03,99.12 L219.82,99.50 L219.64,99.84 L219.45,100.18 L219.26,100.52 L219.08,100.86 L218.92,101.20 L218.78,101.56 L218.66,101.92 L218.55,102.28 L218.44,102.64 L218.32,103.00 L218.18,103.36 L218.03,103.72 L217.89,104.08 L217.76,104.44 L217.67,104.80 L217.67,105.19 L217.67,105.58 L217.67,105.96 L217.67,106.35 L217.67,106.74 L217.67,107.13 L217.67,107.52 L217.67,107.91 L217.67,108.29 L217.67,108.68 L217.67,109.07 L217.67,109.46 L217.67,109.85 L217.67,110.24 L217.67,110.62 L217.67,111.01 L217.67,111.40 L217.67,111.79 L217.67,112.18 L217.67,112.56 L217.67,112.95 L217.67,113.34 L217.67,113.73 L217.67,114.12 L217.67,114.51 L217.67,114.89 L217.67,115.28 L217.67,115.67 L217.67,116.06 L217.67,116.45 L217.67,116.84 L217.67,117.22 L217.67,117.61 L217.67,118.00 L217.52,118.20 L217.52,118.20 L217.37,118.00 L217.37,117.61 L217.37,117.22 L217.37,116.84 L217.37,116.45 L217.37,116.06 L217.37,115.67 L217.37,115.28 L217.37,114.89 L217.37,114.51 L217.37,114.12 L217.37,113.73 L217.37,113.34 L217.37,112.95 L217.37,112.56 L217.37,112.18 L217.37,111.79 L217.37,111.40 L217.37,111.01 L217.37,110.62 L217.37,110.24 L217.37,109.85 L217.37,109.46 L217.37,109.07 L217.37,108.68 L217.37,108.29 L217.37,107.91 L217.37,107.52 L217.37,107.13 L217.37,106.74 L217.37,106.35 L217.37,105.96 L217.37,105.58 L217.37,105.19 L217.37,104.80 L217.28,104.44 L217.15,104.08 L217.01,103.72 L216.86,103.36 L216.72,103.00 L216.60,102.64 L216.49,102.28 L216.38,101.92 L216.26,101.56 L216.12,101.20 L215.96,100.86 L215.78,100.52 L215.59,100.18 L215.40,99.84 L215.22,99.50 L215.01,99.12 L214.80,98.75 L214.61,98.38 L214.42,98.00 L214.24,97.65 L214.06,97.30 L213.90,96.95 L213.77,96.60 L213.68,96.27 L213.62,95.95 L213.59,95.62 L213.57,95.30 L213.57,94.97 L213.58,94.65 L213.61,94.33 L213.67,94.00 L213.75,93.62 L213.85,93.25 L213.97,92.88 L214.12,92.50 L214.29,92.12 L214.48,91.75 L214.69,91.38 L214.92,91.00 L215.18,90.65 L215.48,90.30 L215.77,89.95 L216.02,89.60 L216.30,89.27 L216.52,88.93 L216.67,88.60 L216.67,88.25 L216.67,87.90 L216.67,87.55 L216.66,87.20 L216.64,86.85 L216.62,86.50 L216.62,86.12 L216.61,85.74 L216.61,85.35 L216.60,84.97 L216.60,84.59 L216.59,84.21 L216.59,83.82 L216.58,83.44 L216.58,83.06 L216.57,82.68 L216.57,82.29 L216.57,81.91 L216.57,81.53 L216.57,81.15 L216.57,80.76 L216.57,80.38 L216.57,80.00 L216.58,79.60 L216.58,79.20 L216.59,78.80 L216.60,78.40 L216.61,78.00 L216.63,77.60 L216.64,77.20 L216.66,76.80 L216.67,76.40 L216.69,76.00 L216.70,75.60 L216.72,75.20 L216.74,74.80 L216.75,74.40 L216.77,74.00 L216.79,73.60 L216.80,73.20 L216.82,72.80 L216.84,72.40 L216.86,72.00 L216.88,71.60 L216.90,71.20 L216.92,70.80 L216.95,70.40 L216.97,70.00 L216.99,69.60 L217.01,69.20 L217.03,68.80 L217.05,68.40 L217.07,68.00 L217.09,67.60 L217.11,67.20 L217.13,66.80 L217.16,66.40 L217.18,66.00 L217.20,65.60 L217.22,65.20 L217.25,64.80 L217.27,64.40 L217.29,64.00 L217.31,63.60 L217.33,63.20 L217.34,62.80 L217.36,62.40 L217.37,62.00 L217.38,61.64 L217.40,61.28 L217.40,60.92 L217.41,60.56 L217.41,60.20 L217.41,59.84 L217.41,59.48 L217.41,59.12 L217.41,58.76 L217.42,58.40 L217.52,58.20 Z" fill="none" stroke="#606060" stroke-width="1.2" stroke-linejoin="round"/>
<path d="M217.52,233.50 L220.72,233.55 L220.72,233.90 L220.36,234.25 L219.92,234.60 L219.66,234.90 L219.37,235.20 L219.08,235.50 L218.82,235.80 L218.51,236.18 L218.17,236.55 L217.97,236.93 L217.97,237.30 L218.48,237.60 L219.36,237.90 L220.52,238.20 L222.01,238.53 L223.76,238.87 L225.52,239.20 L227.24,239.53 L228.96,239.87 L230.52,240.20 L232.07,240.50 L233.47,240.80 L234.12,241.10 L233.58,241.37 L232.29,241.63 L231.02,241.90 L229.94,242.20 L228.87,242.50 L228.02,242.80 L227.52,243.10 L227.24,243.40 L227.02,243.70 L227.02,244.00 L226.52,244.30 L217.52,244.35 L217.52,244.35 L208.52,244.30 L208.02,244.00 L208.02,243.70 L207.80,243.40 L207.52,243.10 L207.02,242.80 L206.17,242.50 L205.10,242.20 L204.02,241.90 L202.75,241.63 L201.46,241.37 L200.92,241.10 L201.57,240.80 L202.97,240.50 L204.52,240.20 L206.08,239.87 L207.80,239.53 L209.52,239.20 L211.28,238.87 L213.03,238.53 L214.52,238.20 L215.68,237.90 L216.56,237.60 L217.07,237.30 L217.07,236.93 L216.87,236.55 L216.53,236.18 L216.22,235.80 L215.96,235.50 L215.67,235.20 L215.38,234.90 L215.12,234.60 L214.68,234.25 L214.32,233.90 L214.32,233.55 L217.52,233.50 Z" fill="none" stroke="#606060" stroke-width="1.2" stroke-linejoin="round"/>
<path d="M257.75,78.25 L257.90,78.45 L257.90,78.84 L257.90,79.23 L257.90,79.62 L257.90,80.01 L257.90,80.40 L257.90,80.78 L257.90,81.17 L257.90,81.56 L257.90,81.95 L257.90,82.34 L257.90,82.73 L257.90,83.12 L257.90,83.51 L257.90,83.90 L257.90,84.29 L257.90,84.68 L257.90,85.06 L257.90,85.45 L257.90,85.84 L257.90,86.23 L257.90,86.62 L257.90,87.01 L257.90,87.40 L257.90,87.79 L257.90,88.18 L257.90,88.57 L257.90,88.95 L257.90,89.34 L257.90,89.73 L257.90,90.12 L257.90,90.51 L257.90,90.90 L258.74,91.15 L259.75,91.40 L260.31,91.70 L261.15,92.00 L262.06,92.30 L263.23,92.60 L264.38,92.90 L265.25,93.20 L265.85,93.53 L266.10,93.87 L266.25,94.20 L266.35,94.57 L266.35,94.93 L266.35,95.30 L266.12,95.65 L265.78,96.00 L265.38,96.35 L264.95,96.70 L264.59,97.06 L264.19,97.42 L263.77,97.78 L263.35,98.14 L262.95,98.50 L262.62,98.85 L262.29,99.20 L261.97,99.55 L261.65,99.90 L261.34,100.25 L261.05,100.60 L260.72,100.94 L260.40,101.28 L260.09,101.62 L259.81,101.96 L259.55,102.30 L259.26,102.66 L259.00,103.03 L258.76,103.39 L258.55,103.75 L258.35,104.14 L258.16,104.53 L258.01,104.91 L257.90,105.30 L257.90,105.70 L257.90,106.09 L257.90,106.49 L257.90,106.88 L257.90,107.28 L257.90,107.68 L257.90,108.07 L257.90,108.47 L257.90,108.87 L257.90,109.26 L257.90,109.66 L257.90,110.05 L257.90,110.45 L257.90,110.85 L257.90,111.24 L257.90,111.64 L257.90,112.03 L257.90,112.43 L257.90,112.83 L257.90,113.22 L257.90,113.62 L257.90,114.02 L257.90,114.41 L257.90,114.81 L257.90,115.20 L257.90,115.60 L257.75,115.80 L257.75,115.80 L257.60,115.60 L257.60,115.20 L257.60,114.81 L257.60,114.41 L257.60,114.02 L257.60,113.62 L257.60,113.22 L257.60,112.83 L257.60,112.43 L257.60,112.03 L257.60,111.64 L257.60,111.24 L257.60,110.85 L257.60,110.45 L257.60,110.05 L257.60,109.66 L257.60,109.26 L257.60,108.87 L257.60,108.47 L257.60,108.07 L257.60,107.68 L257.60,107.28 L257.60,106.88 L257.60,106.49 L257.60,106.09 L257.60,105.70 L257.60,105.30 L257.49,104.91 L257.34,104.53 L257.15,104.14 L256.95,103.75 L256.74,103.39 L256.50,103.03 L256.24,102.66 L255.95,102.30 L255.69,101.96 L255.41,101.62 L255.10,101.28 L254.78,100.94 L254.45,100.60 L254.16,100.25 L253.85,99.90 L253.53,99.55 L253.21,99.20 L252.88,98.85 L252.55,98.50 L252.15,98.14 L251.73,97.78 L251.31,97.42 L250.91,97.06 L250.55,96.70 L250.12,96.35 L249.72,96.00 L249.38,95.65 L249.15,95.30 L249.15,94.93 L249.15,94.57 L249.25,94.20 L249.40,93.87 L249.65,93.53 L250.25,93.20 L251.12,92.90 L252.28,92.60 L253.44,92.30 L254.35,92.00 L255.19,91.70 L255.75,91.40 L256.76,91.15 L257.60,90.90 L257.60,90.51 L257.60,90.12 L257.60,89.73 L257.60,89.34 L257.60,88.95 L257.60,88.57 L257.60,88.18 L257.60,87.79 L257.60,87.40 L257.60,87.01 L257.60,86.62 L257.60,86.23 L257.60,85.84 L257.60,85.45 L257.60,85.06 L257.60,84.68 L257.60,84.29 L257.60,83.90 L257.60,83.51 L257.60,83.12 L257.60,82.73 L257.60,82.34 L257.60,81.95 L257.60,81.56 L257.60,81.17 L257.60,80.78 L257.60,80.40 L257.60,80.01 L257.60,79.62 L257.60,79.23 L257.60,78.84 L257.60,78.45 L257.75,78.25 Z" fill="none" stroke="#14148c" stroke-width="1.2" stroke-linejoin="round"/>
<path d="M257.75,193.70 L257.90,193.90 L257.90,194.30 L257.90,194.69 L257.90,195.09 L257.90,195.49 L257.90,195.88 L257.90,196.28 L257.90,196.68 L257.90,197.07 L257.90,197.47 L257.90,197.86 L257.90,198.26 L257.90,198.66 L257.90,199.05 L257.90,199.45 L257.90,199.85 L257.90,200.24 L257.90,200.64 L257.90,201.04 L257.90,201.43 L257.90,201.83 L257.90,202.22 L257.90,202.62 L257.90,203.02 L257.90,203.41 L257.90,203.81 L257.90,204.21 L257.90,204.60 L257.90,205.00 L257.90,205.40 L257.90,205.79 L257.90,206.19 L257.90,206.59 L257.90,206.98 L257.90,207.38 L257.90,207.78 L257.90,208.17 L257.90,208.57 L257.90,208.96 L257.90,209.36 L257.90,209.76 L257.90,210.15 L257.90,210.55 L257.90,210.95 L257.90,211.34 L257.90,211.74 L257.90,212.14 L257.90,212.53 L257.90,212.93 L257.90,213.32 L257.90,213.72 L257.90,214.12 L257.90,214.51 L257.90,214.91 L257.90,215.31 L257.90,215.70 L257.90,216.10 L257.90,216.50 L257.90,216.89 L257.90,217.29 L257.90,217.69 L257.90,218.08 L257.90,218.48 L257.90,218.88 L257.90,219.27 L257.90,219.67 L257.90,220.06 L257.90,220.46 L257.90,220.86 L257.90,221.25 L257.90,221.65 L257.90,222.05 L257.90,222.44 L257.90,222.84 L257.90,223.24 L257.90,223.63 L257.90,224.03 L257.90,224.42 L257.90,224.82 L257.90,225.22 L257.90,225.61 L257.90,226.01 L257.90,226.41 L257.90,226.80 L257.90,227.20 L258.13,227.56 L258.46,227.92 L258.84,228.28 L259.22,228.64 L259.55,229.00 L259.83,229.36 L260.10,229.72 L260.34,230.08 L260.56,230.44 L260.75,230.80 L260.92,231.16 L261.07,231.52 L261.18,231.88 L261.25,232.24 L261.25,232.60 L261.13,232.95 L260.91,233.30 L260.63,233.65 L260.35,234.00 L260.06,234.35 L259.73,234.70 L259.41,235.05 L259.15,235.40 L258.78,235.80 L258.55,236.20 L258.55,236.60 L258.96,236.90 L259.61,237.20 L260.41,237.50 L261.25,237.80 L262.17,238.15 L263.20,238.50 L264.25,238.85 L265.25,239.20 L266.31,239.50 L267.44,239.80 L268.34,240.10 L268.75,240.40 L268.25,240.80 L267.03,241.20 L265.75,241.60 L264.89,242.00 L263.97,242.40 L263.07,242.80 L262.25,243.20 L261.68,243.56 L261.15,243.92 L260.66,244.28 L260.19,244.64 L259.75,245.00 L259.31,245.36 L258.87,245.72 L258.48,246.08 L258.14,246.44 L257.90,246.80 L257.90,247.20 L257.90,247.60 L257.90,247.99 L257.90,248.39 L257.90,248.79 L257.90,249.19 L257.90,249.58 L257.90,249.98 L257.90,250.38 L257.90,250.78 L257.90,251.17 L257.90,251.57 L257.90,251.97 L257.90,252.37 L257.90,252.76 L257.90,253.16 L257.90,253.56 L257.90,253.96 L257.90,254.35 L257.90,254.75 L257.90,255.15 L257.90,255.55 L257.90,255.94 L257.90,256.34 L257.90,256.74 L257.90,257.14 L257.90,257.53 L257.90,257.93 L257.90,258.33 L257.90,258.73 L257.90,259.12 L257.90,259.52 L257.90,259.92 L257.90,260.32 L257.90,260.71 L257.90,261.11 L257.90,261.51 L257.90,261.91 L257.90,262.30 L257.90,262.70 L257.90,263.10 L257.90,263.50 L257.90,263.89 L257.90,264.29 L257.90,264.69 L257.90,265.09 L257.90,265.48 L257.90,265.88 L257.90,266.28 L257.90,266.68 L257.90,267.07 L257.90,267.47 L257.90,267.87 L257.90,268.27 L257.90,268.66 L257.90,269.06 L257.90,269.46 L257.90,269.86 L257.90,270.25 L257.90,270.65 L257.90,271.05 L257.90,271.45 L257.90,271.85 L257.90,272.24 L257.90,272.64 L257.90,273.04 L257.90,273.44 L257.90,273.83 L257.90,274.23 L257.90,274.63 L257.90,275.03 L257.90,275.42 L257.90,275.82 L257.90,276.22 L257.90,276.62 L257.90,277.01 L257.90,277.41 L257.90,277.81 L257.90,278.21 L257.90,278.60 L257.90,279.00 L257.90,279.40 L257.90,279.80 L257.90,280.19 L257.90,280.59 L257.90,280.99 L257.90,281.39 L257.90,281.78 L257.90,282.18 L257.90,282.58 L257.90,282.98 L257.90,283.37 L257.90,283.77 L257.90,284.17 L257.90,284.57 L257.90,284.96 L257.90,285.36 L257.90,285.76 L257.90,286.16 L257.90,286.55 L257.90,286.95 L257.90,287.35 L257.90,287.75 L257.90,288.14 L257.90,288.54 L257.90,288.94 L257.90,289.34 L257.90,289.73 L257.90,290.13 L257.90,290.53 L257.90,290.93 L257.90,291.32 L257.90,291.72 L257.90,292.12 L257.90,292.52 L257.90,292.91 L257.90,293.31 L257.90,293.71 L257.90,294.11 L257.90,294.50 L257.90,294.90 L257.90,295.30 L257.75,295.50 L257.75,295.50 L257.60,295.30 L257.60,294.90 L257.60,294.50 L257.60,294.11 L257.60,293.71 L257.60,293.31 L257.60,292.91 L257.60,292.52 L257.60,292.12 L257.60,291.72 L257.60,291.32 L257.60,290.93 L257.60,290.53 L257.60,290.13 L257.60,289.73 L257.60,289.34 L257.60,288.94 L257.60,288.54 L257.60,288.14 L257.60,287.75 L257.60,287.35 L257.60,286.95 L257.60,286.55 L257.60,286.16 L257.60,285.76 L257.60,285.36 L257.60,284.96 L257.60,284.57 L257.60,284.17 L257.60,283.77 L257.60,283.37 L257.60,282.98 L257.60,282.58 L257.60,282.18 L257.60,281.78 L257.60,281.39 L257.60,280.99 L257.60,280.59 L257.60,280.19 L257.60,279.80 L257.60,279.40 L257.60,279.00 L257.60,278.60 L257.60,278.21 L257.60,277.81 L257.60,277.41 L257.60,277.01 L257.60,276.62 L257.60,276.22 L257.60,275.82 L257.60,275.42 L257.60,275.03 L257.60,274.63 L257.60,274.23 L257.60,273.83 L257.60,273.44 L257.60,273.04 L257.60,272.64 L257.60,272.24 L257.60,271.85 L257.60,271.45 L257.60,271.05 L257.60,270.65 L257.60,270.25 L257.60,269.86 L257.60,269.46 L257.60,269.06 L257.60,268.66 L257.60,268.27 L257.60,267.87 L257.60,267.47 L257.60,267.07 L257.60,266.68 L257.60,266.28 L257.60,265.88 L257.60,265.48 L257.60,265.09 L257.60,264.69 L257.60,264.29 L257.60,263.89 L257.60,263.50 L257.60,263.10 L257.60,262.70 L257.60,262.30 L257.60,261.91 L257.60,261.51 L257.60,261.11 L257.60,260.71 L257.60,260.32 L257.60,259.92 L257.60,259.52 L257.60,259.12 L257.60,258.73 L257.60,258.33 L257.60,257.93 L257.60,257.53 L257.60,257.14 L257.60,256.74 L257.60,256.34 L257.60,255.94 L257.60,255.55 L257.60,255.15 L257.60,254.75 L257.60,254.35 L257.60,253.96 L257.60,253.56 L257.60,253.16 L257.60,252.76 L257.60,252.37 L257.60,251.97 L257.60,251.57 L257.60,251.17 L257.60,250.78 L257.60,250.38 L257.60,249.98 L257.60,249.58 L257.60,249.19 L257.60,248.79 L257.60,248.39 L257.60,247.99 L257.60,247.60 L257.60,247.20 L257.60,246.80 L257.36,246.44 L257.02,246.08 L256.63,245.72 L256.19,245.36 L255.75,245.00 L255.31,244.64 L254.84,244.28 L254.35,243.92 L253.82,243.56 L253.25,243.20 L252.43,242.80 L251.53,242.40 L250.61,242.00 L249.75,241.60 L248.47,241.20 L247.25,240.80 L246.75,240.40 L247.16,240.10 L248.06,239.80 L249.19,239.50 L250.25,239.20 L251.25,238.85 L252.30,238.50 L253.33,238.15 L254.25,237.80 L255.09,237.50 L255.89,237.20 L256.54,236.90 L256.95,236.60 L256.95,236.20 L256.72,235.80 L256.35,235.40 L256.09,235.05 L255.77,234.70 L255.44,234.35 L255.15,234.00 L254.87,233.65 L254.59,233.30 L254.37,232.95 L254.25,232.60 L254.25,232.24 L254.32,231.88 L254.43,231.52 L254.58,231.16 L254.75,230.80 L254.94,230.44 L255.16,230.08 L255.40,229.72 L255.67,229.36 L255.95,229.00 L256.28,228.64 L256.66,228.28 L257.04,227.92 L257.37,227.56 L257.60,227.20 L257.60,226.80 L257.60,226.41 L257.60,226.01 L257.60,225.61 L257.60,225.22 L257.60,224.82 L257.60,224.42 L257.60,224.03 L257.60,223.63 L257.60,223.24 L257.60,222.84 L257.60,222.44 L257.60,222.05 L257.60,221.65 L257.60,221.25 L257.60,220.86 L257.60,220.46 L257.60,220.06 L257.60,219.67 L257.60,219.27 L257.60,218.88 L257.60,218.48 L257.60,218.08 L257.60,217.69 L257.60,217.29 L257.60,216.89 L257.60,216.50 L257.60,216.10 L257.60,215.70 L257.60,215.31 L257.60,214.91 L257.60,214.51 L257.60,214.12 L257.60,213.72 L257.60,213.32 L257.60,212.93 L257.60,212.53 L257.60,212.14 L257.60,211.74 L257.60,211.34 L257.60,210.95 L257.60,210.55 L257.60,210.15 L257.60,209.76 L257.60,209.36 L257.60,208.96 L257.60,208.57 L257.60,208.17 L257.60,207.78 L257.60,207.38 L257.60,206.98 L257.60,206.59 L257.60,206.19 L257.60,205.79 L257.60,205.40 L257.60,205.00 L257.60,204.60 L257.60,204.21 L257.60,203.81 L257.60,203.41 L257.60,203.02 L257.60,202.62 L257.60,202.22 L257.60,201.83 L257.60,201.43 L257.60,201.04 L257.60,200.64 L257.60,200.24 L257.60,199.85 L257.60,199.45 L257.60,199.05 L257.60,198.66 L257.60,198.26 L257.60,197.86 L257.60,197.47 L257.60,197.07 L257.60,196.68 L257.60,196.28 L257.60,195.88 L257.60,195.49 L257.60,195.09 L257.60,194.69 L257.60,194.30 L257.60,193.90 L257.75,193.70 Z" fill="none" stroke="#14148c" stroke-width="1.2" stroke-linejoin="round"/>
<path d="M297.98,77.80 L298.13,78.00 L298.13,78.39 L298.13,78.78 L298.13,79.17 L298.13,79.56 L298.13,79.95 L298.13,80.35 L298.13,80.74 L298.13,81.13 L298.13,81.52 L298.13,81.91 L298.13,82.30 L298.13,82.69 L298.13,83.08 L298.13,83.47 L298.13,83.86 L298.13,84.25 L298.13,84.65 L298.13,85.04 L298.13,85.43 L298.13,85.82 L298.13,86.21 L298.13,86.60 L298.13,86.99 L298.13,87.38 L298.13,87.77 L298.13,88.16 L298.13,88.55 L298.13,88.95 L298.13,89.34 L298.13,89.73 L298.13,90.12 L298.13,90.51 L298.13,90.90 L300.48,91.10 L302.41,91.30 L304.48,91.50 L306.34,91.75 L307.98,92.00 L309.29,92.30 L310.28,92.60 L310.97,92.95 L311.28,93.30 L311.16,93.70 L310.58,94.10 L309.92,94.47 L309.04,94.83 L307.98,95.20 L307.19,95.60 L306.28,96.00 L305.32,96.40 L304.43,96.80 L303.68,97.20 L302.99,97.50 L302.47,97.80 L302.03,98.10 L301.58,98.40 L300.95,98.80 L300.36,99.20 L299.78,99.60 L299.41,99.98 L299.03,100.36 L298.66,100.74 L298.35,101.12 L298.13,101.50 L298.13,101.89 L298.13,102.27 L298.13,102.66 L298.13,103.05 L298.13,103.43 L298.13,103.82 L298.13,104.20 L298.13,104.59 L298.13,104.98 L298.13,105.36 L298.13,105.75 L298.13,106.14 L298.13,106.52 L298.13,106.91 L298.13,107.30 L298.13,107.68 L298.13,108.07 L298.13,108.45 L298.13,108.84 L298.13,109.23 L298.13,109.61 L298.13,110.00 L297.98,110.20 L297.98,110.20 L297.83,110.00 L297.83,109.61 L297.83,109.23 L297.83,108.84 L297.83,108.45 L297.83,108.07 L297.83,107.68 L297.83,107.30 L297.83,106.91 L297.83,106.52 L297.83,106.14 L297.83,105.75 L297.83,105.36 L297.83,104.98 L297.83,104.59 L297.83,104.20 L297.83,103.82 L297.83,103.43 L297.83,103.05 L297.83,102.66 L297.83,102.27 L297.83,101.89 L297.83,101.50 L297.61,101.12 L297.30,100.74 L296.93,100.36 L296.55,99.98 L296.18,99.60 L295.60,99.20 L295.01,98.80 L294.38,98.40 L293.93,98.10 L293.49,97.80 L292.97,97.50 L292.28,97.20 L291.53,96.80 L290.64,96.40 L289.68,96.00 L288.77,95.60 L287.98,95.20 L286.92,94.83 L286.04,94.47 L285.38,94.10 L284.81,93.70 L284.68,93.30 L284.99,92.95 L285.68,92.60 L286.67,92.30 L287.98,92.00 L289.62,91.75 L291.48,91.50 L293.55,91.30 L295.48,91.10 L297.83,90.90 L297.83,90.51 L297.83,90.12 L297.83,89.73 L297.83,89.34 L297.83,88.95 L297.83,88.55 L297.83,88.16 L297.83,87.77 L297.83,87.38 L297.83,86.99 L297.83,86.60 L297.83,86.21 L297.83,85.82 L297.83,85.43 L297.83,85.04 L297.83,84.65 L297.83,84.25 L297.83,83.86 L297.83,83.47 L297.83,83.08 L297.83,82.69 L297.83,82.30 L297.83,81.91 L297.83,81.52 L297.83,81.13 L297.83,80.74 L297.83,80.35 L297.83,79.95 L297.83,79.56 L297.83,79.17 L297.83,78.78 L297.83,78.39 L297.83,78.00 L297.98,77.80 Z" fill="none" stroke="#a0522d" stroke-width="1.2" stroke-linejoin="round"/>
<path d="M297.98,196.60 L298.13,196.80 L298.13,197.20 L298.13,197.59 L298.13,197.99 L298.13,198.39 L298.13,198.78 L298.13,199.18 L298.13,199.57 L298.13,199.97 L298.13,200.37 L298.13,200.76 L298.13,201.16 L298.13,201.56 L298.13,201.95 L298.13,202.35 L298.13,202.74 L298.13,203.14 L298.13,203.54 L298.13,203.93 L298.13,204.33 L298.13,204.73 L298.13,205.12 L298.13,205.52 L298.13,205.91 L298.13,206.31 L298.13,206.71 L298.13,207.10 L298.13,207.50 L298.13,207.90 L298.13,208.29 L298.13,208.69 L298.13,209.08 L298.13,209.48 L298.13,209.88 L298.13,210.27 L298.13,210.67 L298.13,211.06 L298.13,211.46 L298.13,211.86 L298.13,212.25 L298.13,212.65 L298.13,213.05 L298.13,213.44 L298.13,213.84 L298.13,214.24 L298.13,214.63 L298.13,215.03 L298.13,215.42 L298.13,215.82 L298.13,216.22 L298.13,216.61 L298.13,217.01 L298.13,217.41 L298.13,217.80 L298.13,218.20 L298.13,218.59 L298.13,218.99 L298.13,219.39 L298.13,219.78 L298.13,220.18 L298.13,220.57 L298.13,220.97 L298.13,221.37 L298.13,221.76 L298.13,222.16 L298.13,222.56 L298.13,222.95 L298.13,223.35 L298.13,223.75 L298.13,224.14 L298.13,224.54 L298.13,224.93 L298.13,225.33 L298.13,225.73 L298.13,226.12 L298.13,226.52 L298.13,226.91 L298.13,227.31 L298.13,227.71 L298.13,228.10 L298.13,228.50 L298.35,228.77 L298.66,229.03 L298.98,229.30 L299.29,229.60 L299.60,229.90 L299.88,230.20 L300.12,230.50 L300.33,230.80 L300.48,231.10 L300.58,231.40 L300.58,231.70 L300.50,231.97 L300.36,232.23 L300.18,232.50 L299.94,232.83 L299.65,233.17 L299.38,233.50 L299.13,233.83 L298.90,234.17 L298.68,234.50 L298.47,234.77 L298.27,235.03 L298.13,235.30 L298.13,235.70 L298.13,236.10 L298.13,236.50 L298.84,236.85 L299.98,237.20 L300.72,237.50 L301.58,237.80 L302.49,238.10 L303.38,238.40 L304.54,238.80 L305.69,239.20 L306.78,239.60 L307.94,239.97 L309.03,240.33 L309.58,240.70 L309.24,241.00 L308.36,241.30 L307.48,241.60 L306.79,241.90 L306.10,242.20 L305.38,242.50 L304.61,242.80 L303.81,243.10 L302.98,243.40 L302.08,243.70 L301.16,244.00 L300.38,244.30 L299.59,244.70 L299.08,245.10 L298.84,245.35 L298.78,245.60 L298.78,245.87 L298.83,246.13 L298.88,246.40 L298.97,246.70 L298.98,247.00 L298.85,247.27 L298.66,247.53 L298.48,247.80 L298.47,248.20 L298.47,248.59 L298.46,248.99 L298.45,249.39 L298.45,249.78 L298.44,250.18 L298.43,250.58 L298.43,250.98 L298.42,251.37 L298.41,251.77 L298.41,252.17 L298.40,252.56 L298.40,252.96 L298.39,253.36 L298.38,253.75 L298.38,254.15 L298.37,254.55 L298.36,254.94 L298.36,255.34 L298.35,255.74 L298.35,256.13 L298.34,256.53 L298.33,256.93 L298.33,257.32 L298.32,257.72 L298.32,258.12 L298.31,258.52 L298.31,258.91 L298.30,259.31 L298.29,259.71 L298.29,260.10 L298.28,260.50 L298.28,260.90 L298.27,261.29 L298.27,261.69 L298.26,262.09 L298.26,262.48 L298.25,262.88 L298.25,263.28 L298.24,263.68 L298.23,264.07 L298.23,264.47 L298.22,264.87 L298.22,265.26 L298.21,265.66 L298.21,266.06 L298.20,266.45 L298.20,266.85 L298.20,267.25 L298.19,267.64 L298.19,268.04 L298.18,268.44 L298.18,268.83 L298.17,269.23 L298.17,269.63 L298.16,270.02 L298.16,270.42 L298.15,270.82 L298.15,271.22 L298.15,271.61 L298.14,272.01 L298.14,272.41 L298.13,272.80 L298.13,273.20 L297.98,273.40 L297.98,273.40 L297.83,273.20 L297.83,272.80 L297.82,272.41 L297.82,272.01 L297.81,271.61 L297.81,271.22 L297.81,270.82 L297.80,270.42 L297.80,270.02 L297.79,269.63 L297.79,269.23 L297.78,268.83 L297.78,268.44 L297.77,268.04 L297.77,267.64 L297.76,267.25 L297.76,266.85 L297.76,266.45 L297.75,266.06 L297.75,265.66 L297.74,265.26 L297.74,264.87 L297.73,264.47 L297.73,264.07 L297.72,263.68 L297.71,263.28 L297.71,262.88 L297.70,262.48 L297.70,262.09 L297.69,261.69 L297.69,261.29 L297.68,260.90 L297.68,260.50 L297.67,260.10 L297.67,259.71 L297.66,259.31 L297.65,258.91 L297.65,258.52 L297.64,258.12 L297.64,257.72 L297.63,257.32 L297.63,256.93 L297.62,256.53 L297.61,256.13 L297.61,255.74 L297.60,255.34 L297.60,254.94 L297.59,254.55 L297.58,254.15 L297.58,253.75 L297.57,253.36 L297.56,252.96 L297.56,252.56 L297.55,252.17 L297.55,251.77 L297.54,251.37 L297.53,250.98 L297.53,250.58 L297.52,250.18 L297.51,249.78 L297.51,249.39 L297.50,248.99 L297.49,248.59 L297.49,248.20 L297.48,247.80 L297.30,247.53 L297.11,247.27 L296.98,247.00 L296.99,246.70 L297.08,246.40 L297.13,246.13 L297.18,245.87 L297.18,245.60 L297.12,245.35 L296.88,245.10 L296.37,244.70 L295.58,244.30 L294.80,244.00 L293.88,243.70 L292.98,243.40 L292.15,243.10 L291.35,242.80 L290.58,242.50 L289.86,242.20 L289.17,241.90 L288.48,241.60 L287.60,241.30 L286.72,241.00 L286.38,240.70 L286.93,240.33 L288.02,239.97 L289.18,239.60 L290.27,239.20 L291.42,238.80 L292.58,238.40 L293.47,238.10 L294.38,237.80 L295.24,237.50 L295.98,237.20 L297.12,236.85 L297.83,236.50 L297.83,236.10 L297.83,235.70 L297.83,235.30 L297.69,235.03 L297.49,234.77 L297.28,234.50 L297.06,234.17 L296.83,233.83 L296.58,233.50 L296.31,233.17 L296.02,232.83 L295.78,232.50 L295.60,232.23 L295.46,231.97 L295.38,231.70 L295.38,231.40 L295.48,231.10 L295.63,230.80 L295.84,230.50 L296.08,230.20 L296.36,229.90 L296.67,229.60 L296.98,229.30 L297.30,229.03 L297.61,228.77 L297.83,228.50 L297.83,228.10 L297.83,227.71 L297.83,227.31 L297.83,226.91 L297.83,226.52 L297.83,226.12 L297.83,225.73 L297.83,225.33 L297.83,224.93 L297.83,224.54 L297.83,224.14 L297.83,223.75 L297.83,223.35 L297.83,222.95 L297.83,222.56 L297.83,222.16 L297.83,221.76 L297.83,221.37 L297.83,220.97 L297.83,220.57 L297.83,220.18 L297.83,219.78 L297.83,219.39 L297.83,218.99 L297.83,218.59 L297.83,218.20 L297.83,217.80 L297.83,217.41 L297.83,217.01 L297.83,216.61 L297.83,216.22 L297.83,215.82 L297.83,215.42 L297.83,215.03 L297.83,214.63 L297.83,214.24 L297.83,213.84 L297.83,213.44 L297.83,213.05 L297.83,212.65 L297.83,212.25 L297.83,211.86 L297.83,211.46 L297.83,211.06 L297.83,210.67 L297.83,210.27 L297.83,209.88 L297.83,209.48 L297.83,209.08 L297.83,208.69 L297.83,208.29 L297.83,207.90 L297.83,207.50 L297.83,207.10 L297.83,206.71 L297.83,206.31 L297.83,205.91 L297.83,205.52 L297.83,205.12 L297.83,204.73 L297.83,204.33 L297.83,203.93 L297.83,203.54 L297.83,203.14 L297.83,202.74 L297.83,202.35 L297.83,201.95 L297.83,201.56 L297.83,201.16 L297.83,200.76 L297.83,200.37 L297.83,199.97 L297.83,199.57 L297.83,199.18 L297.83,198.78 L297.83,198.39 L297.83,197.99 L297.83,197.59 L297.83,197.20 L297.83,196.80 L297.98,196.60 Z" fill="none" stroke="#a0522d" stroke-width="1.2" stroke-linejoin="round"/>
<path d="M338.21,32.60 L338.36,32.80 L338.36,33.20 L338.36,33.60 L338.36,33.99 L338.36,34.39 L338.36,34.79 L338.36,35.19 L338.36,35.59 L338.36,35.98 L338.36,36.38 L338.36,36.78 L338.36,37.18 L338.36,37.58 L338.36,37.97 L338.36,38.37 L338.36,38.77 L338.36,39.17 L338.36,39.57 L338.36,39.97 L338.36,40.36 L338.36,40.76 L338.36,41.16 L338.36,41.56 L338.36,41.96 L338.36,42.35 L338.36,42.75 L338.36,43.15 L338.36,43.55 L338.36,43.95 L338.36,44.34 L338.36,44.74 L338.36,45.14 L338.36,45.54 L338.36,45.94 L338.36,46.33 L338.36,46.73 L338.36,47.13 L338.36,47.53 L338.36,47.93 L338.36,48.32 L338.36,48.72 L338.36,49.12 L338.36,49.52 L338.36,49.92 L338.36,50.31 L338.36,50.71 L338.36,51.11 L338.36,51.51 L338.36,51.91 L338.36,52.30 L338.36,52.70 L338.36,53.10 L338.36,53.50 L338.36,53.90 L338.36,54.30 L338.36,54.69 L338.36,55.09 L338.36,55.49 L338.36,55.89 L338.36,56.29 L338.36,56.68 L338.36,57.08 L338.36,57.48 L338.36,57.88 L338.36,58.28 L338.36,58.67 L338.36,59.07 L338.36,59.47 L338.36,59.87 L338.36,60.27 L338.36,60.66 L338.36,61.06 L338.36,61.46 L338.36,61.86 L338.36,62.26 L338.36,62.65 L338.36,63.05 L338.36,63.45 L338.36,63.85 L338.36,64.25 L338.36,64.64 L338.36,65.04 L338.36,65.44 L338.36,65.84 L338.36,66.24 L338.36,66.63 L338.36,67.03 L338.36,67.43 L338.36,67.83 L338.36,68.23 L338.36,68.63 L338.36,69.02 L338.36,69.42 L338.36,69.82 L338.36,70.22 L338.36,70.62 L338.36,71.01 L338.36,71.41 L338.36,71.81 L338.36,72.21 L338.36,72.61 L338.36,73.00 L338.36,73.40 L338.36,73.80 L338.44,74.18 L338.53,74.56 L338.63,74.94 L338.75,75.32 L338.88,75.70 L339.03,76.08 L339.19,76.46 L339.38,76.84 L339.58,77.22 L339.81,77.60 L340.07,77.98 L340.37,78.36 L340.70,78.74 L341.05,79.12 L341.41,79.50 L341.78,79.88 L342.14,80.26 L342.49,80.64 L342.82,81.02 L343.11,81.40 L343.62,81.80 L344.07,82.20 L344.49,82.60 L344.89,83.00 L345.31,83.40 L345.81,83.78 L346.37,84.16 L346.89,84.54 L347.27,84.92 L347.41,85.30 L347.03,85.60 L346.17,85.90 L345.11,86.20 L343.86,86.53 L342.41,86.87 L341.11,87.20 L340.00,87.53 L339.03,87.87 L338.36,88.20 L338.36,88.60 L338.36,89.00 L338.36,89.40 L338.36,89.80 L338.36,90.20 L338.36,90.60 L338.36,91.00 L338.77,91.30 L339.21,91.60 L339.34,91.97 L339.40,92.33 L339.41,92.70 L339.40,93.07 L339.34,93.43 L339.21,93.80 L338.77,94.10 L338.36,94.40 L338.36,94.80 L338.36,95.20 L338.36,95.60 L338.36,96.00 L338.36,96.40 L338.36,96.80 L338.36,97.20 L338.36,97.60 L338.36,98.00 L338.36,98.40 L338.36,98.80 L338.36,99.20 L338.36,99.60 L338.36,100.00 L338.36,100.40 L338.36,100.80 L338.36,101.20 L338.36,101.60 L338.36,102.00 L338.36,102.40 L338.36,102.80 L338.36,103.20 L338.36,103.60 L338.36,104.00 L338.21,104.20 L338.21,104.20 L338.06,104.00 L338.06,103.60 L338.06,103.20 L338.06,102.80 L338.06,102.40 L338.06,102.00 L338.06,101.60 L338.06,101.20 L338.06,100.80 L338.06,100.40 L338.06,100.00 L338.06,99.60 L338.06,99.20 L338.06,98.80 L338.06,98.40 L338.06,98.00 L338.06,97.60 L338.06,97.20 L338.06,96.80 L338.06,96.40 L338.06,96.00 L338.06,95.60 L338.06,95.20 L338.06,94.80 L338.06,94.40 L337.65,94.10 L337.21,93.80 L337.08,93.43 L337.02,93.07 L337.01,92.70 L337.02,92.33 L337.08,91.97 L337.21,91.60 L337.65,91.30 L338.06,91.00 L338.06,90.60 L338.06,90.20 L338.06,89.80 L338.06,89.40 L338.06,89.00 L338.06,88.60 L338.06,88.20 L337.39,87.87 L336.42,87.53 L335.31,87.20 L334.01,86.87 L332.56,86.53 L331.31,86.20 L330.25,85.90 L329.39,85.60 L329.01,85.30 L329.15,84.92 L329.53,84.54 L330.05,84.16 L330.61,83.78 L331.11,83.40 L331.53,83.00 L331.93,82.60 L332.35,82.20 L332.80,81.80 L333.31,81.40 L333.60,81.02 L333.93,80.64 L334.28,80.26 L334.64,79.88 L335.01,79.50 L335.37,79.12 L335.72,78.74 L336.05,78.36 L336.35,77.98 L336.61,77.60 L336.84,77.22 L337.04,76.84 L337.23,76.46 L337.39,76.08 L337.54,75.70 L337.67,75.32 L337.79,74.94 L337.89,74.56 L337.98,74.18 L338.06,73.80 L338.06,73.40 L338.06,73.00 L338.06,72.61 L338.06,72.21 L338.06,71.81 L338.06,71.41 L338.06,71.01 L338.06,70.62 L338.06,70.22 L338.06,69.82 L338.06,69.42 L338.06,69.02 L338.06,68.63 L338.06,68.23 L338.06,67.83 L338.06,67.43 L338.06,67.03 L338.06,66.63 L338.06,66.24 L338.06,65.84 L338.06,65.44 L338.06,65.04 L338.06,64.64 L338.06,64.25 L338.06,63.85 L338.06,63.45 L338.06,63.05 L338.06,62.65 L338.06,62.26 L338.06,61.86 L338.06,61.46 L338.06,61.06 L338.06,60.66 L338.06,60.27 L338.06,59.87 L338.06,59.47 L338.06,59.07 L338.06,58.67 L338.06,58.28 L338.06,57.88 L338.06,57.48 L338.06,57.08 L338.06,56.68 L338.06,56.29 L338.06,55.89 L338.06,55.49 L338.06,55.09 L338.06,54.69 L338.06,54.30 L338.06,53.90 L338.06,53.50 L338.06,53.10 L338.06,52.70 L338.06,52.30 L338.06,51.91 L338.06,51.51 L338.06,51.11 L338.06,50.71 L338.06,50.31 L338.06,49.92 L338.06,49.52 L338.06,49.12 L338.06,48.72 L338.06,48.32 L338.06,47.93 L338.06,47.53 L338.06,47.13 L338.06,46.73 L338.06,46.33 L338.06,45.94 L338.06,45.54 L338.06,45.14 L338.06,44.74 L338.06,44.34 L338.06,43.95 L338.06,43.55 L338.06,43.15 L338.06,42.75 L338.06,42.35 L338.06,41.96 L338.06,41.56 L338.06,41.16 L338.06,40.76 L338.06,40.36 L338.06,39.97 L338.06,39.57 L338.06,39.17 L338.06,38.77 L338.06,38.37 L338.06,37.97 L338.06,37.58 L338.06,37.18 L338.06,36.78 L338.06,36.38 L338.06,35.98 L338.06,35.59 L338.06,35.19 L338.06,34.79 L338.06,34.39 L338.06,33.99 L338.06,33.60 L338.06,33.20 L338.06,32.80 L338.21,32.60 Z" fill="none" stroke="#40e0d0" stroke-width="1.2" stroke-linejoin="round"/>
<path d="M338.21,180.90 L338.36,181.10 L338.36,181.50 L338.36,181.90 L338.36,182.29 L338.36,182.69 L338.36,183.09 L338.36,183.49 L338.36,183.89 L338.36,184.29 L338.36,184.68 L338.36,185.08 L338.36,185.48 L338.36,185.88 L338.36,186.28 L338.36,186.68 L338.36,187.07 L338.36,187.47 L338.36,187.87 L338.36,188.27 L338.36,188.67 L338.36,189.06 L338.36,189.46 L338.36,189.86 L338.36,190.26 L338.36,190.66 L338.36,191.06 L338.36,191.45 L338.36,191.85 L338.36,192.25 L338.36,192.65 L338.36,193.05 L338.36,193.45 L338.36,193.84 L338.36,194.24 L338.36,194.64 L338.36,195.04 L338.36,195.44 L338.36,195.84 L338.36,196.23 L338.36,196.63 L338.36,197.03 L338.36,197.43 L338.36,197.83 L338.36,198.22 L338.36,198.62 L338.36,199.02 L338.36,199.42 L338.36,199.82 L338.36,200.22 L338.36,200.61 L338.36,201.01 L338.36,201.41 L338.36,201.81 L338.36,202.21 L338.36,202.61 L338.36,203.00 L338.36,203.40 L338.36,203.80 L338.36,204.20 L338.36,204.60 L338.36,204.99 L338.36,205.39 L338.36,205.79 L338.36,206.19 L338.36,206.59 L338.36,206.99 L338.36,207.38 L338.36,207.78 L338.36,208.18 L338.36,208.58 L338.36,208.98 L338.36,209.38 L338.36,209.77 L338.36,210.17 L338.36,210.57 L338.36,210.97 L338.36,211.37 L338.36,211.76 L338.36,212.16 L338.36,212.56 L338.36,212.96 L338.36,213.36 L338.36,213.76 L338.36,214.15 L338.36,214.55 L338.36,214.95 L338.36,215.35 L338.36,215.75 L338.36,216.15 L338.36,216.54 L338.36,216.94 L338.36,217.34 L338.36,217.74 L338.36,218.14 L338.36,218.54 L338.36,218.93 L338.36,219.33 L338.36,219.73 L338.36,220.13 L338.36,220.53 L338.36,220.92 L338.36,221.32 L338.36,221.72 L338.36,222.12 L338.36,222.52 L338.36,222.92 L338.36,223.31 L338.36,223.71 L338.36,224.11 L338.36,224.51 L338.36,224.91 L338.36,225.31 L338.36,225.70 L338.36,226.10 L338.36,226.50 L338.72,226.87 L339.25,227.23 L339.81,227.60 L340.24,227.93 L340.69,228.25 L341.15,228.57 L341.61,228.90 L342.07,229.28 L342.55,229.65 L343.00,230.03 L343.41,230.40 L343.78,230.75 L344.12,231.10 L344.41,231.45 L344.61,231.80 L344.61,232.20 L344.61,232.60 L344.42,232.90 L344.15,233.20 L343.82,233.50 L343.41,233.80 L342.91,234.18 L342.32,234.55 L341.70,234.93 L341.11,235.30 L340.49,235.70 L339.83,236.10 L339.29,236.50 L339.01,236.90 L339.19,237.23 L339.74,237.57 L340.31,237.90 L340.81,238.27 L341.31,238.63 L341.71,239.00 L341.95,239.33 L342.09,239.67 L342.11,240.00 L342.04,240.38 L341.90,240.75 L341.71,241.12 L341.51,241.50 L341.34,241.84 L341.14,242.18 L340.94,242.52 L340.72,242.86 L340.51,243.20 L340.30,243.60 L340.07,244.00 L339.85,244.40 L339.63,244.80 L339.41,245.20 L339.22,245.57 L339.02,245.93 L338.82,246.30 L338.63,246.67 L338.47,247.03 L338.36,247.40 L338.36,247.80 L338.36,248.20 L338.36,248.60 L338.36,249.00 L338.36,249.40 L338.36,249.80 L338.36,250.20 L338.36,250.60 L338.36,251.00 L338.36,251.40 L338.36,251.80 L338.36,252.20 L338.36,252.60 L338.36,253.00 L338.36,253.40 L338.36,253.80 L338.36,254.20 L338.36,254.60 L338.36,255.00 L338.36,255.40 L338.36,255.80 L338.36,256.20 L338.36,256.60 L338.36,257.00 L338.36,257.40 L338.36,257.80 L338.36,258.20 L338.36,258.60 L338.36,259.00 L338.36,259.40 L338.36,259.80 L338.36,260.20 L338.36,260.60 L338.36,261.00 L338.36,261.40 L338.36,261.80 L338.36,262.20 L338.36,262.60 L338.36,263.00 L338.36,263.40 L338.36,263.80 L338.36,264.20 L338.36,264.60 L338.36,265.00 L338.36,265.40 L338.36,265.80 L338.36,266.20 L338.36,266.60 L338.36,267.00 L338.36,267.40 L338.36,267.80 L338.36,268.20 L338.36,268.60 L338.36,269.00 L338.36,269.40 L338.36,269.80 L338.36,270.20 L338.36,270.60 L338.36,271.00 L338.36,271.40 L338.36,271.80 L338.36,272.20 L338.36,272.60 L338.36,273.00 L338.36,273.40 L338.36,273.80 L338.36,274.20 L338.36,274.60 L338.36,275.00 L338.36,275.40 L338.36,275.80 L338.36,276.20 L338.36,276.60 L338.36,277.00 L338.36,277.40 L338.36,277.80 L338.36,278.20 L338.36,278.60 L338.36,279.00 L338.36,279.40 L338.36,279.80 L338.36,280.20 L338.36,280.60 L338.36,281.00 L338.36,281.40 L338.36,281.80 L338.36,282.20 L338.36,282.60 L338.36,283.00 L338.36,283.40 L338.36,283.80 L338.36,284.20 L338.36,284.60 L338.36,285.00 L338.36,285.40 L338.36,285.80 L338.36,286.20 L338.36,286.60 L338.36,287.00 L338.36,287.40 L338.36,287.80 L338.36,288.20 L338.36,288.60 L338.36,289.00 L338.36,289.40 L338.36,289.80 L338.36,290.20 L338.36,290.60 L338.36,291.00 L338.36,291.40 L338.36,291.80 L338.36,292.20 L338.21,292.40 L338.21,292.40 L338.06,292.20 L338.06,291.80 L338.06,291.40 L338.06,291.00 L338.06,290.60 L338.06,290.20 L338.06,289.80 L338.06,289.40 L338.06,289.00 L338.06,288.60 L338.06,288.20 L338.06,287.80 L338.06,287.40 L338.06,287.00 L338.06,286.60 L338.06,286.20 L338.06,285.80 L338.06,285.40 L338.06,285.00 L338.06,284.60 L338.06,284.20 L338.06,283.80 L338.06,283.40 L338.06,283.00 L338.06,282.60 L338.06,282.20 L338.06,281.80 L338.06,281.40 L338.06,281.00 L338.06,280.60 L338.06,280.20 L338.06,279.80 L338.06,279.40 L338.06,279.00 L338.06,278.60 L338.06,278.20 L338.06,277.80 L338.06,277.40 L338.06,277.00 L338.06,276.60 L338.06,276.20 L338.06,275.80 L338.06,275.40 L338.06,275.00 L338.06,274.60 L338.06,274.20 L338.06,273.80 L338.06,273.40 L338.06,273.00 L338.06,272.60 L338.06,272.20 L338.06,271.80 L338.06,271.40 L338.06,271.00 L338.06,270.60 L338.06,270.20 L338.06,269.80 L338.06,269.40 L338.06,269.00 L338.06,268.60 L338.06,268.20 L338.06,267.80 L338.06,267.40 L338.06,267.00 L338.06,266.60 L338.06,266.20 L338.06,265.80 L338.06,265.40 L338.06,265.00 L338.06,264.60 L338.06,264.20 L338.06,263.80 L338.06,263.40 L338.06,263.00 L338.06,262.60 L338.06,262.20 L338.06,261.80 L338.06,261.40 L338.06,261.00 L338.06,260.60 L338.06,260.20 L338.06,259.80 L338.06,259.40 L338.06,259.00 L338.06,258.60 L338.06,258.20 L338.06,257.80 L338.06,257.40 L338.06,257.00 L338.06,256.60 L338.06,256.20 L338.06,255.80 L338.06,255.40 L338.06,255.00 L338.06,254.60 L338.06,254.20 L338.06,253.80 L338.06,253.40 L338.06,253.00 L338.06,252.60 L338.06,252.20 L338.06,251.80 L338.06,251.40 L338.06,251.00 L338.06,250.60 L338.06,250.20 L338.06,249.80 L338.06,249.40 L338.06,249.00 L338.06,248.60 L338.06,248.20 L338.06,247.80 L338.06,247.40 L337.95,247.03 L337.79,246.67 L337.60,246.30 L337.40,245.93 L337.20,245.57 L337.01,245.20 L336.79,244.80 L336.57,244.40 L336.35,244.00 L336.12,243.60 L335.91,243.20 L335.70,242.86 L335.48,242.52 L335.28,242.18 L335.08,241.84 L334.91,241.50 L334.71,241.12 L334.52,240.75 L334.38,240.38 L334.31,240.00 L334.33,239.67 L334.47,239.33 L334.71,239.00 L335.11,238.63 L335.61,238.27 L336.11,237.90 L336.68,237.57 L337.23,237.23 L337.41,236.90 L337.13,236.50 L336.58,236.10 L335.93,235.70 L335.31,235.30 L334.72,234.93 L334.10,234.55 L333.51,234.18 L333.01,233.80 L332.60,233.50 L332.27,233.20 L332.00,232.90 L331.81,232.60 L331.81,232.20 L331.81,231.80 L332.01,231.45 L332.30,231.10 L332.64,230.75 L333.01,230.40 L333.42,230.03 L333.87,229.65 L334.35,229.28 L334.81,228.90 L335.27,228.57 L335.73,228.25 L336.18,227.93 L336.61,227.60 L337.17,227.23 L337.70,226.87 L338.06,226.50 L338.06,226.10 L338.06,225.70 L338.06,225.31 L338.06,224.91 L338.06,224.51 L338.06,224.11 L338.06,223.71 L338.06,223.31 L338.06,222.92 L338.06,222.52 L338.06,222.12 L338.06,221.72 L338.06,221.32 L338.06,220.92 L338.06,220.53 L338.06,220.13 L338.06,219.73 L338.06,219.33 L338.06,218.93 L338.06,218.54 L338.06,218.14 L338.06,217.74 L338.06,217.34 L338.06,216.94 L338.06,216.54 L338.06,216.15 L338.06,215.75 L338.06,215.35 L338.06,214.95 L338.06,214.55 L338.06,214.15 L338.06,213.76 L338.06,213.36 L338.06,212.96 L338.06,212.56 L338.06,212.16 L338.06,211.76 L338.06,211.37 L338.06,210.97 L338.06,210.57 L338.06,210.17 L338.06,209.77 L338.06,209.38 L338.06,208.98 L338.06,208.58 L338.06,208.18 L338.06,207.78 L338.06,207.38 L338.06,206.99 L338.06,206.59 L338.06,206.19 L338.06,205.79 L338.06,205.39 L338.06,204.99 L338.06,204.60 L338.06,204.20 L338.06,203.80 L338.06,203.40 L338.06,203.00 L338.06,202.61 L338.06,202.21 L338.06,201.81 L338.06,201.41 L338.06,201.01 L338.06,200.61 L338.06,200.22 L338.06,199.82 L338.06,199.42 L338.06,199.02 L338.06,198.62 L338.06,198.22 L338.06,197.83 L338.06,197.43 L338.06,197.03 L338.06,196.63 L338.06,196.23 L338.06,195.84 L338.06,195.44 L338.06,195.04 L338.06,194.64 L338.06,194.24 L338.06,193.84 L338.06,193.45 L338.06,193.05 L338.06,192.65 L338.06,192.25 L338.06,191.85 L338.06,191.45 L338.06,191.06 L338.06,190.66 L338.06,190.26 L338.06,189.86 L338.06,189.46 L338.06,189.06 L338.06,188.67 L338.06,188.27 L338.06,187.87 L338.06,187.47 L338.06,187.07 L338.06,186.68 L338.06,186.28 L338.06,185.88 L338.06,185.48 L338.06,185.08 L338.06,184.68 L338.06,184.29 L338.06,183.89 L338.06,183.49 L338.06,183.09 L338.06,182.69 L338.06,182.29 L338.06,181.90 L338.06,181.50 L338.06,181.10 L338.21,180.90 Z" fill="none" stroke="#40e0d0" stroke-width="1.2" stroke-linejoin="round"/>
<line x1="96.83" x2="96.83" y1="94.10" y2="99.70" stroke="#ffffff" stroke-opacity="0.28" stroke-width="2.2"/>
<line x1="96.83" x2="96.83" y1="219.60" y2="226.80" stroke="#ffffff" stroke-opacity="0.28" stroke-width="2.2"/>
<line x1="96.83" x2="96.83" y1="246.90" y2="252.90" stroke="#ffffff" stroke-opacity="0.28" stroke-width="2.2"/>
<line x1="137.06" x2="137.06" y1="26.60" y2="59.40" stroke="#ffffff" stroke-opacity="0.28" stroke-width="2.2"/>
<line x1="137.06" x2="137.06" y1="179.20" y2="226.10" stroke="#ffffff" stroke-opacity="0.28" stroke-width="2.2"/>
<line x1="137.06" x2="137.06" y1="246.00" y2="284.60" stroke="#ffffff" stroke-opacity="0.28" stroke-width="2.2"/>
<line x1="177.29" x2="177.29" y1="99.70" y2="102.20" stroke="#ffffff" stroke-opacity="0.28" stroke-width="2.2"/>
<line x1="177.29" x2="177.29" y1="189.60" y2="224.50" stroke="#ffffff" stroke-opacity="0.28" stroke-width="2.2"/>
<line x1="177.29" x2="177.29" y1="247.40" y2="286.20" stroke="#ffffff" stroke-opacity="0.28" stroke-width="2.2"/>
<line x1="217.52" x2="217.52" y1="58.80" y2="69.40" stroke="#ffffff" stroke-opacity="0.28" stroke-width="2.2"/>
<line x1="257.75" x2="257.75" y1="78.85" y2="90.30" stroke="#ffffff" stroke-opacity="0.28" stroke-width="2.2"/>
<line x1="257.75" x2="257.75" y1="105.90" y2="115.20" stroke="#ffffff" stroke-opacity="0.28" stroke-width="2.2"/>
<line x1="257.75" x2="257.75" y1="194.30" y2="226.60" stroke="#ffffff" stroke-opacity="0.28" stroke-width="2.2"/>
<line x1="257.75" x2="257.75" y1="247.40" y2="294.90" stroke="#ffffff" stroke-opacity="0.28" stroke-width="2.2"/>
<line x1="297.98" x2="297.98" y1="78.40" y2="90.30" stroke="#ffffff" stroke-opacity="0.28" stroke-width="2.2"/>
<line x1="297.98" x2="297.98" y1="102.10" y2="109.60" stroke="#ffffff" stroke-opacity="0.28" stroke-width="2.2"/>
<line x1="297.98" x2="297.98" y1="197.20" y2="227.90" stroke="#ffffff" stroke-opacity="0.28" stroke-width="2.2"/>
<line x1="297.98" x2="297.98" y1="248.40" y2="272.80" stroke="#ffffff" stroke-opacity="0.28" stroke-width="2.2"/>
<line x1="338.21" x2="338.21" y1="33.20" y2="73.20" stroke="#ffffff" stroke-opacity="0.28" stroke-width="2.2"/>
<line x1="338.21" x2="338.21" y1="95.00" y2="103.60" stroke="#ffffff" stroke-opacity="0.28" stroke-width="2.2"/>
<line x1="338.21" x2="338.21" y1="181.50" y2="225.90" stroke="#ffffff" stroke-opacity="0.28" stroke-width="2.2"/>
<line x1="338.21" x2="338.21" y1="248.00" y2="291.80" stroke="#ffffff" stroke-opacity="0.28" stroke-width="2.2"/>
<circle cx="297.98" cy="78.6" r="0.75" fill="#8a4a20" fill-opacity="0.8"/>
<circle cx="297.98" cy="84.8" r="0.75" fill="#8a4a20" fill-opacity="0.8"/>
<circle cx="297.98" cy="197.4" r="0.75" fill="#8a4a20" fill-opacity="0.8"/>
<circle cx="297.98" cy="203.5" r="0.75" fill="#8a4a20" fill-opacity="0.8"/>
<circle cx="297.98" cy="213.0" r="0.75" fill="#8a4a20" fill-opacity="0.8"/>
<circle cx="297.98" cy="219.7" r="0.75" fill="#8a4a20" fill-opacity="0.8"/>
<circle cx="297.98" cy="225.2" r="0.75" fill="#8a4a20" fill-opacity="0.8"/>
<circle cx="297.98" cy="256.5" r="0.75" fill="#8a4a20" fill-opacity="0.8"/>
<circle cx="297.98" cy="268.0" r="0.75" fill="#8a4a20" fill-opacity="0.8"/>
<circle cx="297.98" cy="272.9" r="0.75" fill="#8a4a20" fill-opacity="0.8"/>
<text x="56.60" y="158.0" font-family='"Liberation Sans", sans-serif' font-size="9.8" fill="#1a1a1a" stroke="#1a1a1a" stroke-width="0.25" text-anchor="middle">n=138</text>
<text x="56.60" y="306.0" font-family='"Liberation Sans", sans-serif' font-size="9.8" fill="#1a1a1a" stroke="#1a1a1a" stroke-width="0.25" text-anchor="middle">n=66</text>
<text x="96.83" y="158.0" font-family='"Liberation Sans", sans-serif' font-size="9.8" fill="#208a20" stroke="#208a20" stroke-width="0.25" text-anchor="middle">n=183</text>
<text x="96.83" y="306.0" font-family='"Liberation Sans", sans-serif' font-size="9.8" fill="#208a20" stroke="#208a20" stroke-width="0.25" text-anchor="middle">n=360</text>
<text x="137.06" y="158.0" font-family='"Liberation Sans", sans-serif' font-size="9.8" fill="#daa520" stroke="#daa520" stroke-width="0.25" text-anchor="middle">n=1337</text>
<text x="137.06" y="306.0" font-family='"Liberation Sans", sans-serif' font-size="9.8" fill="#daa520" stroke="#daa520" stroke-width="0.25" text-anchor="middle">n=1540</text>
<text x="177.29" y="158.0" font-family='"Liberation Sans", sans-serif' font-size="9.8" fill="#ff1a1a" stroke="#ff1a1a" stroke-width="0.25" text-anchor="middle">n=170</text>
<text x="177.29" y="306.0" font-family='"Liberation Sans", sans-serif' font-size="9.8" fill="#ff1a1a" stroke="#ff1a1a" stroke-width="0.25" text-anchor="middle">n=222</text>
<text x="217.52" y="158.0" font-family='"Liberation Sans", sans-serif' font-size="9.8" fill="#707070" stroke="#707070" stroke-width="0.25" text-anchor="middle">n=158</text>
<text x="217.52" y="306.0" font-family='"Liberation Sans", sans-serif' font-size="9.8" fill="#707070" stroke="#707070" stroke-width="0.25" text-anchor="middle">n=19</text>
<text x="257.75" y="158.0" font-family='"Liberation Sans", sans-serif' font-size="9.8" fill="#1a1a8a" stroke="#1a1a8a" stroke-width="0.25" text-anchor="middle">n=1869</text>
<text x="257.75" y="306.0" font-family='"Liberation Sans", sans-serif' font-size="9.8" fill="#1a1a8a" stroke="#1a1a8a" stroke-width="0.25" text-anchor="middle">n=991</text>
<text x="297.98" y="158.0" font-family='"Liberation Sans", sans-serif' font-size="9.8" fill="#a0522d" stroke="#a0522d" stroke-width="0.25" text-anchor="middle">n=986</text>
<text x="297.98" y="306.0" font-family='"Liberation Sans", sans-serif' font-size="9.8" fill="#a0522d" stroke="#a0522d" stroke-width="0.25" text-anchor="middle">n=182</text>
<text x="338.21" y="158.0" font-family='"Liberation Sans", sans-serif' font-size="9.8" fill="#40e0d0" stroke="#40e0d0" stroke-width="0.25" text-anchor="middle">n=1622</text>
<text x="338.21" y="306.0" font-family='"Liberation Sans", sans-serif' font-size="9.8" fill="#40e0d0" stroke="#40e0d0" stroke-width="0.25" text-anchor="middle">n=468</text>
<rect x="362.4" y="18.4" width="17.200000000000045" height="142.29999999999998" fill="#d9d9d9" stroke="#7c7c7c" stroke-width="1.2"/>
<rect x="32.5" y="18.4" width="329.9" height="142.29999999999998" fill="none" stroke="#7c7c7c" stroke-width="1.2"/>
<line x1="362.4" x2="362.4" y1="18.4" y2="160.7" stroke="#3a3a3a" stroke-width="1.2"/>
<rect x="362.4" y="166.5" width="17.200000000000045" height="141.89999999999998" fill="#d9d9d9" stroke="#7c7c7c" stroke-width="1.2"/>
<rect x="32.5" y="166.5" width="329.9" height="141.89999999999998" fill="none" stroke="#7c7c7c" stroke-width="1.2"/>
<line x1="362.4" x2="362.4" y1="166.5" y2="308.4" stroke="#3a3a3a" stroke-width="1.2"/>
<text x="0" y="0" transform="translate(366.90,89.15) rotate(90)" font-family='"Liberation Sans", sans-serif' font-size="10.8" fill="#000000" stroke="#000000" stroke-width="0.35" text-anchor="middle">Differential expression</text>
<text x="0" y="0" transform="translate(366.90,237.05) rotate(90)" font-family='"Liberation Sans", sans-serif' font-size="10.8" fill="#000000" stroke="#000000" stroke-width="0.35" text-anchor="middle">Differential interactions</text>
<line x1="29.80" x2="32.5" y1="35.35" y2="35.35" stroke="#333333" stroke-width="1"/>
<text x="28.00" y="38.25" font-family='"Liberation Sans", sans-serif' font-size="8" fill="#4d4d4d" text-anchor="end">10</text>
<line x1="29.80" x2="32.5" y1="62.45" y2="62.45" stroke="#333333" stroke-width="1"/>
<text x="28.00" y="65.35" font-family='"Liberation Sans", sans-serif' font-size="8" fill="#4d4d4d" text-anchor="end">5</text>
<line x1="29.80" x2="32.5" y1="89.55" y2="89.55" stroke="#333333" stroke-width="1"/>
<text x="28.00" y="92.45" font-family='"Liberation Sans", sans-serif' font-size="8" fill="#4d4d4d" text-anchor="end">0</text>
<line x1="29.80" x2="32.5" y1="116.65" y2="116.65" stroke="#333333" stroke-width="1"/>
<text x="28.00" y="119.55" font-family='"Liberation Sans", sans-serif' font-size="8" fill="#4d4d4d" text-anchor="end">-5</text>
<line x1="29.80" x2="32.5" y1="143.75" y2="143.75" stroke="#333333" stroke-width="1"/>
<text x="28.00" y="146.65" font-family='"Liberation Sans", sans-serif' font-size="8" fill="#4d4d4d" text-anchor="end">-10</text>
<line x1="29.80" x2="32.5" y1="183.25" y2="183.25" stroke="#333333" stroke-width="1"/>
<text x="28.00" y="186.15" font-family='"Liberation Sans", sans-serif' font-size="8" fill="#4d4d4d" text-anchor="end">10</text>
<line x1="29.80" x2="32.5" y1="210.35" y2="210.35" stroke="#333333" stroke-width="1"/>
<text x="28.00" y="213.25" font-family='"Liberation Sans", sans-serif' font-size="8" fill="#4d4d4d" text-anchor="end">5</text>
<line x1="29.80" x2="32.5" y1="237.45" y2="237.45" stroke="#333333" stroke-width="1"/>
<text x="28.00" y="240.35" font-family='"Liberation Sans", sans-serif' font-size="8" fill="#4d4d4d" text-anchor="end">0</text>
<line x1="29.80" x2="32.5" y1="264.55" y2="264.55" stroke="#333333" stroke-width="1"/>
<text x="28.00" y="267.45" font-family='"Liberation Sans", sans-serif' font-size="8" fill="#4d4d4d" text-anchor="end">-5</text>
<line x1="29.80" x2="32.5" y1="291.65" y2="291.65" stroke="#333333" stroke-width="1"/>
<text x="28.00" y="294.55" font-family='"Liberation Sans", sans-serif' font-size="8" fill="#4d4d4d" text-anchor="end">-10</text>
<line x1="56.60" x2="56.60" y1="308.4" y2="311.10" stroke="#333333" stroke-width="1"/>
<text x="56.60" y="319.2" font-family='"Liberation Sans", sans-serif' font-size="8" fill="#4d4d4d" text-anchor="middle">black</text>
<line x1="96.83" x2="96.83" y1="308.4" y2="311.10" stroke="#333333" stroke-width="1"/>
<text x="96.83" y="319.2" font-family='"Liberation Sans", sans-serif' font-size="8" fill="#4d4d4d" text-anchor="middle">green</text>
<line x1="137.06" x2="137.06" y1="308.4" y2="311.10" stroke="#333333" stroke-width="1"/>
<text x="137.06" y="319.2" font-family='"Liberation Sans", sans-serif' font-size="8" fill="#4d4d4d" text-anchor="middle">yellow</text>
<line x1="177.29" x2="177.29" y1="308.4" y2="311.10" stroke="#333333" stroke-width="1"/>
<text x="177.29" y="319.2" font-family='"Liberation Sans", sans-serif' font-size="8" fill="#4d4d4d" text-anchor="middle">red</text>
<line x1="217.52" x2="217.52" y1="308.4" y2="311.10" stroke="#333333" stroke-width="1"/>
<text x="217.52" y="319.2" font-family='"Liberation Sans", sans-serif' font-size="8" fill="#4d4d4d" text-anchor="middle">gray</text>
<line x1="257.75" x2="257.75" y1="308.4" y2="311.10" stroke="#333333" stroke-width="1"/>
<text x="257.75" y="319.2" font-family='"Liberation Sans", sans-serif' font-size="8" fill="#4d4d4d" text-anchor="middle">blue</text>
<line x1="297.98" x2="297.98" y1="308.4" y2="311.10" stroke="#333333" stroke-width="1"/>
<text x="297.98" y="319.2" font-family='"Liberation Sans", sans-serif' font-size="8" fill="#4d4d4d" text-anchor="middle">brown</text>
<line x1="338.21" x2="338.21" y1="308.4" y2="311.10" stroke="#333333" stroke-width="1"/>
<text x="338.21" y="319.2" font-family='"Liberation Sans", sans-serif' font-size="8" fill="#4d4d4d" text-anchor="middle">turquoise</text>
<text x="197.45" y="331.5" font-family='"Liberation Sans", sans-serif' font-size="9.8" fill="#000000" stroke="#000000" stroke-width="0.2" text-anchor="middle">Gene module</text>
<text x="0" y="0" transform="translate(9.9,163.40) rotate(-90)" font-family='"Liberation Sans", sans-serif' font-size="9.9" fill="#000000" stroke="#000000" stroke-width="0.2" text-anchor="middle">Log2 fold change</text>
<text x="0.2" y="15.6" font-family='"Liberation Sans", sans-serif' font-size="22" font-weight="bold" fill="#000000">a</text>
<rect x="431.1" y="18.2" width="344.9" height="288.0" fill="#ffffff"/>
<line x1="525.12" x2="525.12" y1="18.2" y2="306.2" stroke="#eeeeee" stroke-width="1" stroke-dasharray="1.2,1.1"/>
<line x1="628.67" x2="628.67" y1="18.2" y2="306.2" stroke="#eeeeee" stroke-width="1" stroke-dasharray="1.2,1.1"/>
<line x1="732.22" x2="732.22" y1="18.2" y2="306.2" stroke="#eeeeee" stroke-width="1" stroke-dasharray="1.2,1.1"/>
<line x1="431.1" x2="776.0" y1="40.52" y2="40.52" stroke="#eeeeee" stroke-width="1" stroke-dasharray="1.2,1.1"/>
<line x1="431.1" x2="776.0" y1="111.68" y2="111.68" stroke="#eeeeee" stroke-width="1" stroke-dasharray="1.2,1.1"/>
<line x1="431.1" x2="776.0" y1="182.84" y2="182.84" stroke="#eeeeee" stroke-width="1" stroke-dasharray="1.2,1.1"/>
<line x1="431.1" x2="776.0" y1="254.00" y2="254.00" stroke="#eeeeee" stroke-width="1" stroke-dasharray="1.2,1.1"/>
<line x1="473.35" x2="473.35" y1="18.2" y2="306.2" stroke="#e6e6e6" stroke-width="1" stroke-dasharray="1.2,1.1"/>
<line x1="576.90" x2="576.90" y1="18.2" y2="306.2" stroke="#e6e6e6" stroke-width="1" stroke-dasharray="1.2,1.1"/>
<line x1="680.45" x2="680.45" y1="18.2" y2="306.2" stroke="#e6e6e6" stroke-width="1" stroke-dasharray="1.2,1.1"/>
<line x1="431.1" x2="776.0" y1="76.10" y2="76.10" stroke="#e6e6e6" stroke-width="1" stroke-dasharray="1.2,1.1"/>
<line x1="431.1" x2="776.0" y1="147.26" y2="147.26" stroke="#e6e6e6" stroke-width="1" stroke-dasharray="1.2,1.1"/>
<line x1="431.1" x2="776.0" y1="218.42" y2="218.42" stroke="#e6e6e6" stroke-width="1" stroke-dasharray="1.2,1.1"/>
<line x1="431.1" x2="776.0" y1="289.58" y2="289.58" stroke="#e6e6e6" stroke-width="1" stroke-dasharray="1.2,1.1"/>
<circle cx="760.7" cy="31.2" r="2.7" fill="#daa520"/>
<circle cx="679.9" cy="48.9" r="2.7" fill="#40e0d0"/>
<circle cx="669.8" cy="219.6" r="2.7" fill="#006400"/>
<circle cx="514.9" cy="227.0" r="2.7" fill="#ff0000"/>
<circle cx="503.5" cy="244.3" r="2.7" fill="#000000"/>
<circle cx="446.4" cy="251.0" r="2.7" fill="#00008b"/>
<circle cx="476.8" cy="270.4" r="2.7" fill="#a84518"/>
<circle cx="485.5" cy="293.5" r="2.7" fill="#7f7f7f"/>
<line x1="446.5" y1="287.6" x2="760.3" y2="54.4" stroke="#000000" stroke-width="1.9"/>
<rect x="431.1" y="18.2" width="344.9" height="288.0" fill="none" stroke="#8a8a8a" stroke-width="1"/>
<line x1="428.60" x2="431.1" y1="76.10" y2="76.10" stroke="#333333" stroke-width="1"/>
<text x="426.50" y="79.00" font-family='"Liberation Sans", sans-serif' font-size="8" fill="#4d4d4d" text-anchor="end">0.4</text>
<line x1="428.60" x2="431.1" y1="147.26" y2="147.26" stroke="#333333" stroke-width="1"/>
<text x="426.50" y="150.16" font-family='"Liberation Sans", sans-serif' font-size="8" fill="#4d4d4d" text-anchor="end">0.0</text>
<line x1="428.60" x2="431.1" y1="218.42" y2="218.42" stroke="#333333" stroke-width="1"/>
<text x="426.50" y="221.32" font-family='"Liberation Sans", sans-serif' font-size="8" fill="#4d4d4d" text-anchor="end">-0.4</text>
<line x1="428.60" x2="431.1" y1="289.58" y2="289.58" stroke="#333333" stroke-width="1"/>
<text x="426.50" y="292.48" font-family='"Liberation Sans", sans-serif' font-size="8" fill="#4d4d4d" text-anchor="end">-0.8</text>
<line x1="473.35" x2="473.35" y1="306.2" y2="308.70" stroke="#333333" stroke-width="1"/>
<text x="473.35" y="316.8" font-family='"Liberation Sans", sans-serif' font-size="8" fill="#4d4d4d" text-anchor="middle">-1</text>
<line x1="576.90" x2="576.90" y1="306.2" y2="308.70" stroke="#333333" stroke-width="1"/>
<text x="576.90" y="316.8" font-family='"Liberation Sans", sans-serif' font-size="8" fill="#4d4d4d" text-anchor="middle">0</text>
<line x1="680.45" x2="680.45" y1="306.2" y2="308.70" stroke="#333333" stroke-width="1"/>
<text x="680.45" y="316.8" font-family='"Liberation Sans", sans-serif' font-size="8" fill="#4d4d4d" text-anchor="middle">1</text>
<text x="603.55" y="328.8" font-family='"Liberation Sans", sans-serif' font-size="9.8" fill="#000000" stroke="#000000" stroke-width="0.2" text-anchor="middle">Median log2 fold change in expression</text>
<text x="0" y="0" transform="translate(406.4,162.60) rotate(-90)" font-family='"Liberation Sans", sans-serif' font-size="9.83" fill="#000000" stroke="#000000" stroke-width="0.2" text-anchor="middle">Median log2 fold change in interaction</text>
<text x="680.6" y="276.8" font-family='"Liberation Sans", sans-serif' font-size="12.6" fill="#1a1a1a" stroke="#1a1a1a" stroke-width="0.15" text-anchor="middle">rho=0.9 p=0.005</text>
<text x="397.2" y="15.9" font-family='"Liberation Sans", sans-serif' font-size="21" font-weight="bold" fill="#000000">b</text>
</g>
</svg>
</body></html>
